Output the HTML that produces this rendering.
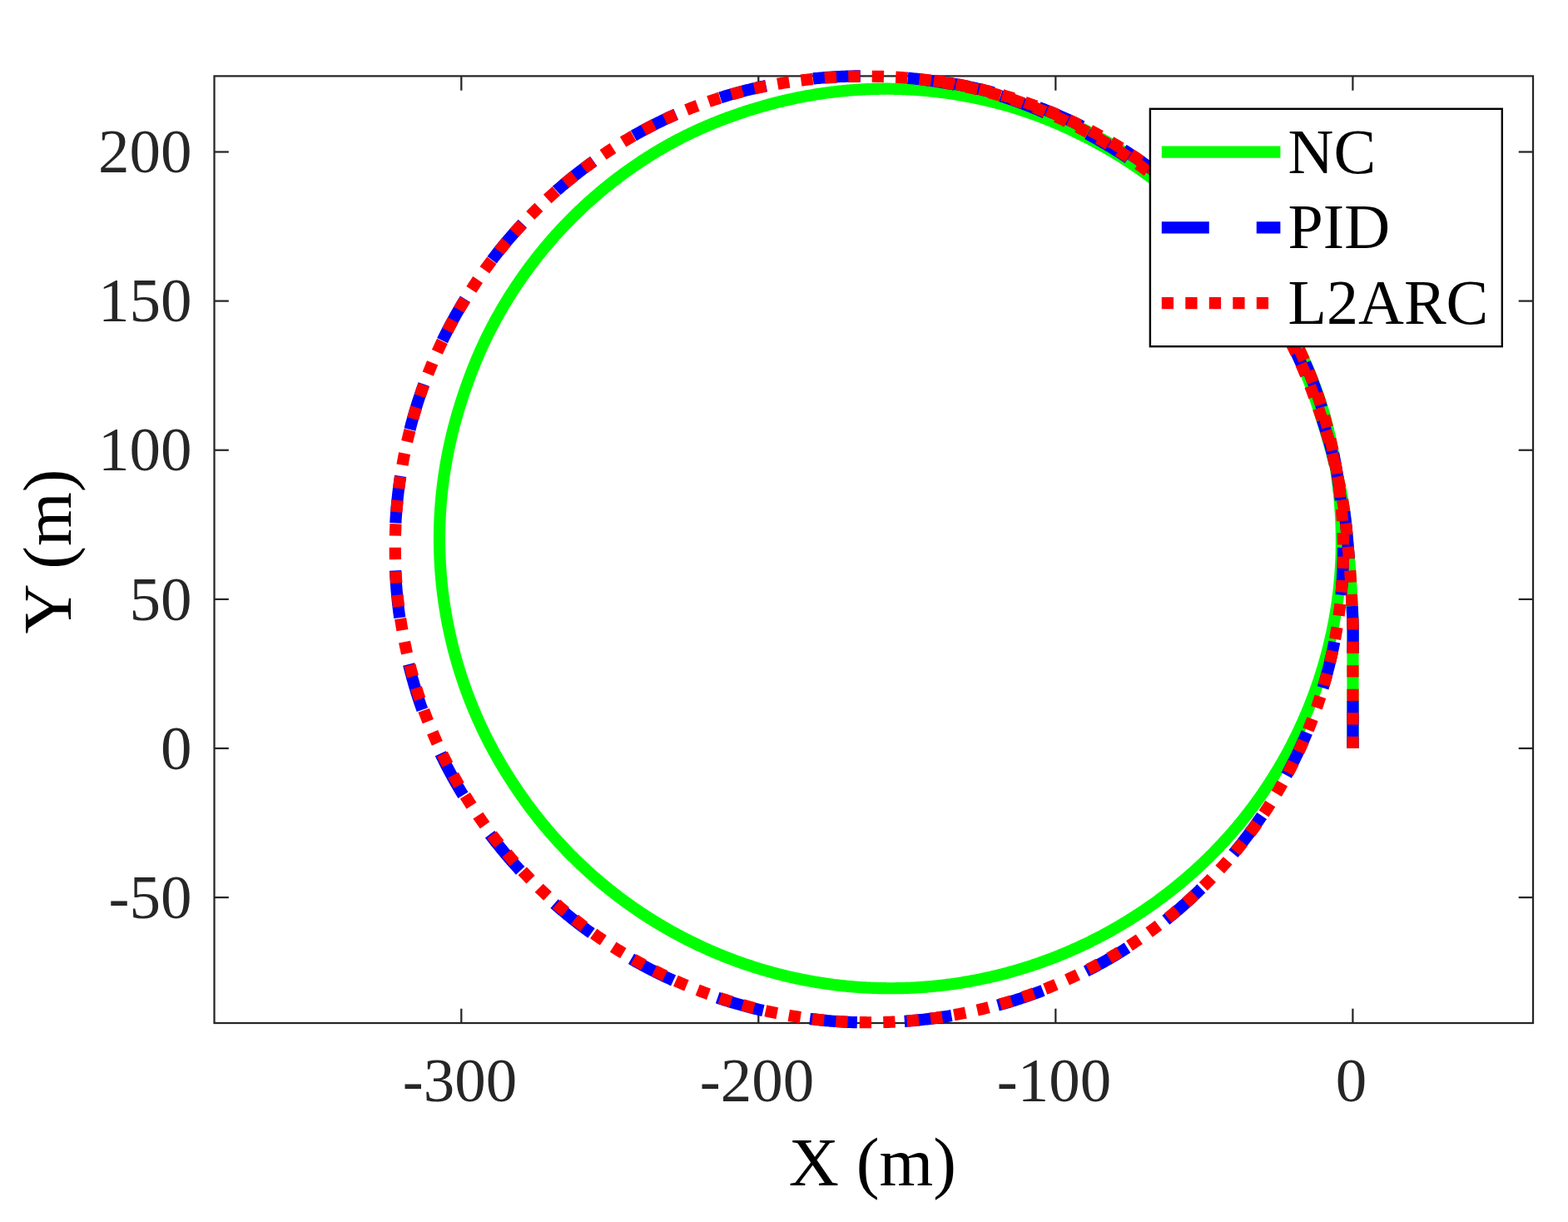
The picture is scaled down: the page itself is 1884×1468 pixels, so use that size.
<!DOCTYPE html>
<html lang="en"><head><meta charset="utf-8"><title>Trajectory</title>
<style>html,body{margin:0;padding:0;background:#fff;overflow:hidden;width:1884px;height:1468px}svg{display:block}text{font-family:"Liberation Serif",serif}</style></head><body>
<svg width="1884" height="1468" viewBox="0 0 1884 1468">
<rect x="0" y="0" width="1884" height="1468" fill="#fff"/>
<g fill="none" stroke="#262626" stroke-width="2.25" stroke-linecap="square">
<rect x="257.50" y="91.40" width="1584.50" height="1137.60" stroke-linejoin="miter"/>
</g>
<g fill="none" stroke="#262626" stroke-width="2.25" stroke-linecap="butt">
<line x1="554.30" y1="1229.00" x2="554.30" y2="1211.70"/>
<line x1="554.30" y1="91.40" x2="554.30" y2="108.70"/>
<line x1="911.30" y1="1229.00" x2="911.30" y2="1211.70"/>
<line x1="911.30" y1="91.40" x2="911.30" y2="108.70"/>
<line x1="1268.35" y1="1229.00" x2="1268.35" y2="1211.70"/>
<line x1="1268.35" y1="91.40" x2="1268.35" y2="108.70"/>
<line x1="1625.40" y1="1229.00" x2="1625.40" y2="1211.70"/>
<line x1="1625.40" y1="91.40" x2="1625.40" y2="108.70"/>
<line x1="257.50" y1="182.50" x2="274.80" y2="182.50"/>
<line x1="1842.00" y1="182.50" x2="1824.70" y2="182.50"/>
<line x1="257.50" y1="361.60" x2="274.80" y2="361.60"/>
<line x1="1842.00" y1="361.60" x2="1824.70" y2="361.60"/>
<line x1="257.50" y1="540.75" x2="274.80" y2="540.75"/>
<line x1="1842.00" y1="540.75" x2="1824.70" y2="540.75"/>
<line x1="257.50" y1="719.90" x2="274.80" y2="719.90"/>
<line x1="1842.00" y1="719.90" x2="1824.70" y2="719.90"/>
<line x1="257.50" y1="899.00" x2="274.80" y2="899.00"/>
<line x1="1842.00" y1="899.00" x2="1824.70" y2="899.00"/>
<line x1="257.50" y1="1078.10" x2="274.80" y2="1078.10"/>
<line x1="1842.00" y1="1078.10" x2="1824.70" y2="1078.10"/>
</g>
<g fill="none" stroke-width="14.20" stroke-linecap="butt" stroke-linejoin="round">
<path stroke="#00ff00" d="M1625.50 899.00 L1625.50 897.27 L1625.49 895.54 L1625.49 893.80 L1625.49 892.07 L1625.49 890.34 L1625.49 888.61 L1625.49 886.88 L1625.49 885.14 L1625.49 883.41 L1625.49 881.68 L1625.49 879.95 L1625.49 878.22 L1625.49 876.48 L1625.49 874.75 L1625.49 873.02 L1625.49 871.29 L1625.49 869.56 L1625.49 867.82 L1625.50 866.09 L1625.50 864.36 L1625.50 862.63 L1625.50 860.90 L1625.50 859.16 L1625.50 857.43 L1625.51 855.70 L1625.51 853.97 L1625.51 852.23 L1625.51 850.50 L1625.51 848.77 L1625.51 847.04 L1625.51 845.31 L1625.51 843.57 L1625.51 841.84 L1625.51 840.11 L1625.51 838.38 L1625.51 836.65 L1625.51 834.91 L1625.51 833.18 L1625.51 831.45 L1625.51 829.72 L1625.51 827.99 L1625.50 826.25 L1625.50 824.52 L1625.50 822.79 L1625.49 821.06 L1625.49 819.33 L1625.48 817.59 L1625.48 815.86 L1625.48 814.13 L1625.47 812.40 L1625.47 810.67 L1625.47 808.93 L1625.46 807.20 L1625.46 805.47 L1625.46 803.74 L1625.46 802.01 L1625.46 800.27 L1625.46 798.54 L1625.46 796.81 L1625.47 795.08 L1625.47 793.35 L1625.48 791.61 L1625.48 789.88 L1625.49 788.15 L1625.51 786.42 L1625.52 784.69 L1625.53 782.95 L1625.55 781.22 L1625.56 779.49 L1625.58 777.76 L1625.59 776.02 L1625.61 774.29 L1625.62 772.56 L1625.63 770.83 L1625.64 769.09 L1625.65 767.36 L1625.65 765.63 L1625.65 763.90 L1625.65 762.17 L1625.64 760.43 L1625.63 758.70 L1625.62 756.97 L1625.60 755.24 L1625.57 753.51 L1625.54 751.78 L1625.50 750.04 L1625.46 748.31 L1625.40 746.58 L1625.35 744.85 L1625.29 743.12 L1625.22 741.39 L1625.15 739.66 L1625.07 737.93 L1624.99 736.20 L1624.91 734.47 L1624.82 732.74 L1624.74 731.01 L1624.65 729.28 L1624.56 727.55 L1624.47 725.82 L1624.38 724.09 L1624.29 722.36 L1624.20 720.63 L1624.11 718.90 L1624.02 717.17 L1623.93 715.44 L1623.84 713.71 L1623.76 711.98 L1623.67 710.25 L1623.58 708.52 L1623.49 706.79 L1623.39 705.06 L1623.30 703.33 L1623.20 701.60 L1623.10 699.87 L1623.00 698.14 L1622.89 696.41 L1622.78 694.69 L1622.67 692.96 L1622.55 691.23 L1622.42 689.50 L1622.29 687.78 L1622.16 686.05 L1622.03 684.32 L1621.89 682.60 L1621.75 680.87 L1621.60 679.14 L1621.46 677.42 L1621.31 675.69 L1621.16 673.97 L1621.01 672.24 L1620.86 670.52 L1620.71 668.79 L1620.56 667.06 L1620.40 665.34 L1620.25 663.61 L1620.10 661.89 L1619.95 660.16 L1619.81 658.44 L1619.66 656.71 L1619.51 654.99 L1619.36 653.26 L1619.21 651.53 L1619.06 649.81 L1618.91 648.08 L1618.75 646.36 L1618.60 644.63 L1618.44 642.91 L1618.28 641.18 L1618.11 639.46 L1617.95 637.73 L1617.78 636.01 L1617.60 634.28 L1617.43 632.56 L1617.24 630.84 L1617.06 629.12 L1616.87 627.39 L1616.67 625.67 L1616.47 623.95 L1616.26 622.23 L1616.05 620.51 L1615.83 618.79 L1615.60 617.08 L1615.37 615.36 L1615.13 613.65 L1614.89 611.93 L1614.63 610.22 L1614.37 608.51 L1614.10 606.80 L1613.83 605.09 L1613.54 603.38 L1613.25 601.67 L1612.95 599.96 L1612.65 598.26 L1612.34 596.55 L1612.02 594.85 L1611.69 593.15 L1611.36 591.45 L1611.02 589.75 L1610.68 588.05 L1610.33 586.35 L1609.98 584.66 L1609.62 582.96 L1609.25 581.27 L1608.88 579.58 L1608.51 577.88 L1608.13 576.19 L1607.75 574.50 L1607.36 572.81 L1606.96 571.13 L1606.57 569.44 L1606.17 567.75 L1605.76 566.07 L1605.35 564.39 L1604.94 562.70 L1604.52 561.02 L1604.10 559.34 L1603.68 557.66 L1603.25 555.98 L1602.82 554.31 L1602.39 552.63 L1601.95 550.95 L1601.51 549.28 L1601.06 547.60 L1600.61 545.93 L1600.16 544.26 L1599.71 542.59 L1599.25 540.92 L1598.79 539.25 L1598.33 537.58 L1597.86 535.91 L1597.39 534.24 L1596.92 532.58 L1596.44 530.91 L1595.96 529.25 L1595.48 527.58 L1595.00 525.92 L1594.51 524.25 L1594.02 522.59 L1593.53 520.93 L1593.04 519.27 L1592.54 517.61 L1592.04 515.95 L1591.54 514.29 L1591.04 512.63 L1590.54 510.98 L1590.03 509.32 L1589.52 507.66 L1589.01 506.01 L1588.49 504.35 L1587.98 502.70 L1587.46 501.04 L1586.94 499.39 L1586.42 497.74 L1585.90 496.09 L1585.38 494.43 L1584.85 492.78 L1584.32 491.13 L1583.80 489.48 L1583.27 487.83 L1582.73 486.18 L1582.20 484.53 L1581.66 482.89 L1581.12 481.24 L1580.57 479.60 L1580.03 477.95 L1579.47 476.31 L1578.92 474.67 L1578.36 473.03 L1577.79 471.39 L1577.22 469.76 L1576.65 468.12 L1576.07 466.49 L1575.48 464.86 L1574.88 463.24 L1574.29 461.61 L1573.68 459.99 L1573.07 458.37 L1572.45 456.75 L1571.82 455.14 L1571.18 453.53 L1570.54 451.92 L1569.89 450.32 L1569.23 448.71 L1568.57 447.11 L1567.89 445.52 L1567.22 443.92 L1566.53 442.33 L1565.84 440.74 L1565.14 439.16 L1564.44 437.57 L1563.73 435.99 L1563.01 434.42 L1562.29 432.84 L1561.56 431.27 L1560.82 429.70 L1560.08 428.13 L1559.33 426.57 L1558.58 425.01 L1557.82 423.45 L1557.06 421.89 L1556.29 420.34 L1555.52 418.79 L1554.74 417.24 L1553.95 415.70 L1553.16 414.16 L1552.37 412.62 L1551.57 411.08 L1550.76 409.55 L1549.95 408.01 L1549.14 406.49 L1548.32 404.96 L1547.49 403.44 L1546.66 401.92 L1545.83 400.40 L1544.99 398.88 L1544.14 397.37 L1543.30 395.86 L1542.44 394.35 L1541.58 392.85 L1540.72 391.35 L1539.85 389.85 L1538.98 388.35 L1538.10 386.86 L1537.22 385.37 L1536.33 383.88 L1535.44 382.40 L1534.54 380.91 L1533.65 379.43 L1532.74 377.95 L1531.83 376.48 L1530.92 375.01 L1530.01 373.54 L1529.09 372.07 L1528.16 370.60 L1527.23 369.14 L1526.30 367.68 L1525.37 366.22 L1524.43 364.77 L1523.49 363.31 L1522.54 361.86 L1521.59 360.41 L1520.64 358.96 L1519.68 357.52 L1518.73 356.08 L1517.76 354.63 L1516.80 353.20 L1515.83 351.76 L1514.86 350.33 L1513.88 348.89 L1512.90 347.47 L1511.92 346.04 L1510.93 344.62 L1509.94 343.19 L1508.95 341.77 L1507.95 340.36 L1506.95 338.94 L1505.94 337.53 L1504.94 336.13 L1503.92 334.72 L1502.91 333.32 L1501.88 331.92 L1500.86 330.52 L1499.83 329.13 L1498.80 327.74 L1497.76 326.35 L1496.72 324.97 L1495.67 323.59 L1494.62 322.21 L1493.56 320.84 L1492.50 319.47 L1491.44 318.10 L1490.37 316.74 L1489.30 315.38 L1488.22 314.02 L1487.14 312.66 L1486.06 311.31 L1484.97 309.97 L1483.88 308.62 L1482.78 307.28 L1481.68 305.95 L1480.57 304.61 L1479.46 303.28 L1478.34 301.96 L1477.23 300.63 L1476.10 299.32 L1474.98 298.00 L1473.84 296.69 L1472.71 295.38 L1471.57 294.08 L1470.42 292.77 L1469.28 291.48 L1468.12 290.18 L1466.97 288.89 L1465.81 287.61 L1464.64 286.32 L1463.47 285.05 L1462.30 283.77 L1461.12 282.50 L1459.94 281.23 L1458.76 279.97 L1457.57 278.71 L1456.38 277.45 L1455.18 276.20 L1453.98 274.95 L1452.77 273.71 L1451.57 272.47 L1450.35 271.23 L1449.14 270.00 L1447.91 268.77 L1446.69 267.54 L1445.46 266.32 L1444.23 265.10 L1442.99 263.89 L1441.75 262.68 L1440.51 261.47 L1439.26 260.27 L1438.01 259.07 L1436.76 257.88 L1435.50 256.69 L1434.23 255.50 L1432.97 254.32 L1431.70 253.14 L1430.42 251.97 L1429.14 250.80 L1427.86 249.64 L1426.58 248.47 L1425.29 247.32 L1423.99 246.16 L1422.70 245.02 L1421.40 243.87 L1420.09 242.73 L1418.78 241.60 L1417.47 240.46 L1416.16 239.34 L1414.84 238.21 L1413.52 237.09 L1412.19 235.98 L1410.86 234.87 L1409.53 233.76 L1408.19 232.66 L1406.85 231.56 L1405.51 230.47 L1404.16 229.37 L1402.81 228.29 L1401.46 227.21 L1400.11 226.13 L1398.75 225.05 L1397.38 223.98 L1396.02 222.92 L1394.65 221.85 L1393.28 220.80 L1391.90 219.74 L1390.53 218.69 L1389.15 217.64 L1387.76 216.60 L1386.38 215.56 L1384.99 214.53 L1383.59 213.50 L1382.20 212.47 L1380.80 211.45 L1379.40 210.43 L1377.99 209.42 L1376.59 208.41 L1375.18 207.40 L1373.76 206.40 L1372.35 205.40 L1370.93 204.41 L1369.50 203.42 L1368.08 202.44 L1366.65 201.46 L1365.22 200.48 L1363.79 199.51 L1362.35 198.54 L1360.91 197.58 L1359.47 196.62 L1358.02 195.66 L1356.57 194.71 L1355.12 193.77 L1353.67 192.83 L1352.21 191.89 L1350.75 190.96 L1349.28 190.03 L1347.82 189.11 L1346.35 188.19 L1344.88 187.28 L1343.40 186.37 L1341.93 185.46 L1340.45 184.56 L1338.96 183.67 L1337.48 182.78 L1335.99 181.89 L1334.50 181.01 L1333.00 180.14 L1331.50 179.27 L1330.00 178.40 L1328.50 177.54 L1326.99 176.68 L1325.49 175.83 L1323.97 174.98 L1322.46 174.14 L1320.94 173.31 L1319.42 172.47 L1317.90 171.65 L1316.38 170.82 L1314.85 170.00 L1313.32 169.19 L1311.79 168.38 L1310.26 167.58 L1308.72 166.78 L1307.18 165.98 L1305.64 165.19 L1304.10 164.40 L1302.55 163.62 L1301.00 162.84 L1299.45 162.06 L1297.90 161.29 L1296.35 160.53 L1294.79 159.77 L1293.23 159.01 L1291.67 158.26 L1290.11 157.51 L1288.55 156.76 L1286.98 156.02 L1285.41 155.29 L1283.84 154.56 L1282.27 153.83 L1280.69 153.11 L1279.11 152.40 L1277.53 151.69 L1275.95 150.98 L1274.37 150.28 L1272.78 149.59 L1271.19 148.90 L1269.60 148.21 L1268.01 147.53 L1266.41 146.86 L1264.82 146.19 L1263.21 145.52 L1261.61 144.87 L1260.01 144.21 L1258.40 143.57 L1256.79 142.93 L1255.18 142.29 L1253.57 141.66 L1251.95 141.03 L1250.33 140.42 L1248.71 139.80 L1247.09 139.19 L1245.46 138.59 L1243.84 138.00 L1242.21 137.41 L1240.58 136.82 L1238.95 136.24 L1237.31 135.67 L1235.67 135.10 L1234.04 134.54 L1232.39 133.98 L1230.75 133.43 L1229.11 132.89 L1227.46 132.35 L1225.81 131.82 L1224.16 131.29 L1222.51 130.77 L1220.86 130.25 L1219.20 129.74 L1217.54 129.24 L1215.88 128.74 L1214.22 128.25 L1212.56 127.76 L1210.90 127.28 L1209.23 126.80 L1207.56 126.33 L1205.89 125.87 L1204.22 125.41 L1202.55 124.96 L1200.88 124.51 L1199.20 124.07 L1197.53 123.63 L1195.85 123.20 L1194.17 122.77 L1192.49 122.35 L1190.81 121.94 L1189.12 121.53 L1187.44 121.12 L1185.75 120.72 L1184.06 120.33 L1182.38 119.94 L1180.69 119.56 L1179.00 119.18 L1177.30 118.81 L1175.61 118.45 L1173.92 118.09 L1172.22 117.73 L1170.52 117.38 L1168.83 117.04 L1167.13 116.70 L1165.43 116.37 L1163.72 116.04 L1162.02 115.72 L1160.32 115.40 L1158.61 115.09 L1156.91 114.79 L1155.20 114.49 L1153.50 114.20 L1151.79 113.91 L1150.08 113.63 L1148.37 113.35 L1146.66 113.08 L1144.94 112.81 L1143.23 112.55 L1141.52 112.30 L1139.80 112.05 L1138.09 111.81 L1136.37 111.57 L1134.66 111.34 L1132.94 111.11 L1131.22 110.89 L1129.50 110.68 L1127.78 110.47 L1126.06 110.27 L1124.34 110.07 L1122.62 109.88 L1120.90 109.69 L1119.17 109.51 L1117.45 109.33 L1115.72 109.16 L1114.00 109.00 L1112.27 108.84 L1110.55 108.69 L1108.82 108.54 L1107.10 108.40 L1105.37 108.26 L1103.64 108.13 L1101.91 108.01 L1100.19 107.89 L1098.46 107.78 L1096.73 107.67 L1095.00 107.57 L1093.27 107.47 L1091.54 107.38 L1089.81 107.30 L1088.08 107.22 L1086.35 107.14 L1084.62 107.07 L1082.88 107.01 L1081.15 106.95 L1079.42 106.90 L1077.69 106.86 L1075.96 106.82 L1074.23 106.78 L1072.49 106.75 L1070.76 106.73 L1069.03 106.71 L1067.30 106.70 L1065.56 106.70 L1063.83 106.70 L1062.10 106.70 L1060.37 106.71 L1058.63 106.73 L1056.90 106.75 L1055.17 106.78 L1053.44 106.81 L1051.71 106.85 L1049.97 106.90 L1048.24 106.95 L1046.51 107.00 L1044.78 107.07 L1043.05 107.13 L1041.32 107.21 L1039.59 107.29 L1037.86 107.37 L1036.13 107.46 L1034.40 107.56 L1032.67 107.66 L1030.94 107.77 L1029.21 107.88 L1027.48 108.00 L1025.75 108.12 L1024.03 108.25 L1022.30 108.39 L1020.57 108.53 L1018.85 108.68 L1017.12 108.83 L1015.40 108.99 L1013.67 109.15 L1011.95 109.32 L1010.22 109.49 L1008.50 109.68 L1006.78 109.86 L1005.06 110.05 L1003.34 110.25 L1001.61 110.45 L999.90 110.66 L998.18 110.87 L996.46 111.09 L994.74 111.32 L993.02 111.55 L991.31 111.79 L989.59 112.03 L987.88 112.27 L986.16 112.53 L984.45 112.78 L982.74 113.05 L981.03 113.32 L979.32 113.59 L977.61 113.87 L975.90 114.15 L974.19 114.45 L972.48 114.74 L970.78 115.04 L969.07 115.35 L967.37 115.66 L965.66 115.98 L963.96 116.30 L962.26 116.63 L960.56 116.96 L958.86 117.30 L957.16 117.65 L955.47 118.00 L953.77 118.35 L952.08 118.71 L950.38 119.08 L948.69 119.45 L947.00 119.83 L945.31 120.21 L943.62 120.60 L941.94 120.99 L940.25 121.39 L938.57 121.79 L936.88 122.20 L935.20 122.62 L933.52 123.04 L931.84 123.46 L930.16 123.89 L928.48 124.33 L926.81 124.77 L925.14 125.21 L923.46 125.67 L921.79 126.12 L920.12 126.58 L918.45 127.05 L916.79 127.52 L915.12 128.00 L913.46 128.48 L911.80 128.97 L910.14 129.46 L908.48 129.96 L906.82 130.46 L905.16 130.97 L903.51 131.48 L901.85 132.00 L900.20 132.52 L898.55 133.05 L896.90 133.58 L895.25 134.12 L893.61 134.66 L891.96 135.20 L890.32 135.75 L888.68 136.31 L887.04 136.87 L885.40 137.43 L883.77 138.00 L882.13 138.58 L880.50 139.16 L878.87 139.74 L877.24 140.33 L875.61 140.93 L873.99 141.52 L872.37 142.13 L870.74 142.74 L869.12 143.35 L867.51 143.97 L865.89 144.59 L864.28 145.22 L862.66 145.86 L861.05 146.50 L859.44 147.14 L857.84 147.79 L856.23 148.44 L854.63 149.10 L853.03 149.77 L851.43 150.44 L849.84 151.11 L848.25 151.79 L846.65 152.48 L845.07 153.17 L843.48 153.86 L841.89 154.56 L840.31 155.27 L838.73 155.98 L837.16 156.70 L835.58 157.43 L834.01 158.15 L832.44 158.89 L830.88 159.63 L829.31 160.38 L827.75 161.13 L826.19 161.88 L824.64 162.65 L823.09 163.42 L821.54 164.19 L819.99 164.97 L818.45 165.76 L816.90 166.55 L815.37 167.35 L813.83 168.15 L812.30 168.96 L810.77 169.77 L809.24 170.59 L807.72 171.42 L806.20 172.25 L804.68 173.08 L803.17 173.92 L801.66 174.77 L800.15 175.62 L798.64 176.48 L797.14 177.34 L795.64 178.21 L794.14 179.08 L792.65 179.96 L791.16 180.84 L789.67 181.73 L788.18 182.62 L786.70 183.52 L785.22 184.42 L783.75 185.33 L782.28 186.24 L780.81 187.16 L779.34 188.08 L777.88 189.01 L776.42 189.94 L774.96 190.88 L773.50 191.82 L772.05 192.76 L770.61 193.72 L769.16 194.67 L767.72 195.63 L766.28 196.60 L764.85 197.57 L763.41 198.54 L761.99 199.52 L760.56 200.51 L759.14 201.50 L757.72 202.49 L756.30 203.49 L754.89 204.49 L753.48 205.50 L752.07 206.51 L750.67 207.53 L749.27 208.55 L747.88 209.57 L746.48 210.60 L745.09 211.64 L743.71 212.68 L742.32 213.72 L740.94 214.77 L739.57 215.82 L738.20 216.88 L736.83 217.94 L735.46 219.01 L734.10 220.08 L732.74 221.15 L731.39 222.23 L730.03 223.31 L728.69 224.40 L727.34 225.50 L726.00 226.59 L724.66 227.69 L723.33 228.80 L722.00 229.91 L720.67 231.02 L719.35 232.14 L718.03 233.27 L716.72 234.39 L715.40 235.52 L714.10 236.66 L712.79 237.80 L711.49 238.95 L710.19 240.09 L708.90 241.25 L707.61 242.40 L706.33 243.56 L705.04 244.73 L703.77 245.90 L702.49 247.07 L701.22 248.25 L699.96 249.43 L698.69 250.62 L697.43 251.81 L696.18 253.00 L694.93 254.20 L693.68 255.40 L692.44 256.61 L691.20 257.82 L689.96 259.03 L688.73 260.25 L687.50 261.48 L686.28 262.70 L685.06 263.93 L683.84 265.17 L682.63 266.40 L681.42 267.65 L680.22 268.89 L679.02 270.14 L677.83 271.40 L676.63 272.65 L675.45 273.92 L674.26 275.18 L673.08 276.45 L671.91 277.72 L670.74 279.00 L669.57 280.28 L668.41 281.56 L667.25 282.85 L666.10 284.14 L664.95 285.44 L663.80 286.74 L662.66 288.04 L661.52 289.35 L660.39 290.66 L659.26 291.97 L658.13 293.29 L657.01 294.61 L655.90 295.94 L654.78 297.26 L653.68 298.60 L652.57 299.93 L651.47 301.27 L650.38 302.61 L649.29 303.96 L648.20 305.31 L647.12 306.66 L646.04 308.02 L644.97 309.38 L643.90 310.74 L642.84 312.11 L641.78 313.48 L640.72 314.85 L639.67 316.23 L638.62 317.61 L637.58 319.00 L636.54 320.38 L635.51 321.77 L634.48 323.17 L633.46 324.56 L632.44 325.97 L631.42 327.37 L630.41 328.78 L629.41 330.19 L628.41 331.60 L627.41 333.02 L626.42 334.44 L625.43 335.86 L624.45 337.29 L623.47 338.72 L622.49 340.15 L621.53 341.58 L620.56 343.02 L619.60 344.47 L618.65 345.91 L617.69 347.36 L616.75 348.81 L615.81 350.26 L614.87 351.72 L613.94 353.18 L613.01 354.65 L612.09 356.11 L611.17 357.58 L610.26 359.05 L609.35 360.53 L608.44 362.00 L607.54 363.48 L606.65 364.97 L605.76 366.45 L604.87 367.94 L603.99 369.43 L603.11 370.93 L602.24 372.43 L601.37 373.93 L600.51 375.43 L599.65 376.93 L598.80 378.44 L597.95 379.95 L597.11 381.47 L596.27 382.98 L595.44 384.50 L594.61 386.02 L593.79 387.55 L592.97 389.08 L592.16 390.61 L591.35 392.14 L590.55 393.67 L589.76 395.21 L588.96 396.75 L588.18 398.30 L587.40 399.85 L586.62 401.39 L585.85 402.95 L585.09 404.50 L584.33 406.06 L583.58 407.62 L582.83 409.18 L582.09 410.75 L581.35 412.32 L580.62 413.89 L579.89 415.46 L579.17 417.03 L578.46 418.61 L577.75 420.19 L577.04 421.77 L576.34 423.36 L575.65 424.95 L574.96 426.54 L574.27 428.13 L573.60 429.72 L572.92 431.32 L572.25 432.92 L571.59 434.52 L570.93 436.12 L570.28 437.72 L569.63 439.33 L568.99 440.94 L568.35 442.55 L567.72 444.16 L567.09 445.78 L566.47 447.39 L565.85 449.01 L565.23 450.63 L564.62 452.25 L564.02 453.87 L563.42 455.50 L562.82 457.13 L562.23 458.75 L561.64 460.38 L561.06 462.01 L560.48 463.65 L559.91 465.28 L559.34 466.92 L558.77 468.56 L558.21 470.19 L557.65 471.83 L557.10 473.48 L556.55 475.12 L556.00 476.76 L555.46 478.41 L554.92 480.06 L554.39 481.70 L553.86 483.35 L553.34 485.00 L552.82 486.66 L552.30 488.31 L551.80 489.97 L551.29 491.62 L550.79 493.28 L550.30 494.94 L549.81 496.60 L549.32 498.27 L548.84 499.93 L548.37 501.60 L547.90 503.27 L547.43 504.93 L546.98 506.61 L546.52 508.28 L546.08 509.95 L545.63 511.63 L545.20 513.30 L544.77 514.98 L544.34 516.66 L543.92 518.34 L543.50 520.02 L543.09 521.70 L542.69 523.39 L542.29 525.07 L541.90 526.76 L541.51 528.45 L541.13 530.14 L540.75 531.83 L540.38 533.52 L540.01 535.22 L539.65 536.91 L539.29 538.61 L538.94 540.30 L538.59 542.00 L538.25 543.70 L537.92 545.40 L537.59 547.10 L537.27 548.80 L536.95 550.50 L536.63 552.21 L536.33 553.91 L536.02 555.62 L535.73 557.32 L535.44 559.03 L535.15 560.74 L534.87 562.45 L534.60 564.16 L534.33 565.87 L534.06 567.58 L533.80 569.30 L533.55 571.01 L533.30 572.73 L533.06 574.44 L532.82 576.16 L532.59 577.87 L532.37 579.59 L532.15 581.31 L531.93 583.03 L531.73 584.75 L531.52 586.47 L531.33 588.19 L531.13 589.91 L530.95 591.64 L530.77 593.36 L530.59 595.08 L530.42 596.81 L530.26 598.53 L530.10 600.26 L529.95 601.98 L529.80 603.71 L529.66 605.43 L529.53 607.16 L529.40 608.89 L529.27 610.62 L529.16 612.35 L529.04 614.07 L528.94 615.80 L528.84 617.53 L528.74 619.26 L528.65 620.99 L528.57 622.72 L528.49 624.45 L528.42 626.18 L528.35 627.92 L528.29 629.65 L528.24 631.38 L528.19 633.11 L528.15 634.84 L528.11 636.57 L528.08 638.31 L528.05 640.04 L528.03 641.77 L528.01 643.50 L528.01 645.24 L528.00 646.97 L528.00 648.70 L528.01 650.43 L528.03 652.17 L528.04 653.90 L528.07 655.63 L528.10 657.36 L528.14 659.09 L528.18 660.83 L528.23 662.56 L528.28 664.29 L528.34 666.02 L528.40 667.75 L528.47 669.48 L528.55 671.21 L528.63 672.94 L528.72 674.67 L528.81 676.40 L528.91 678.13 L529.02 679.86 L529.13 681.59 L529.24 683.32 L529.36 685.05 L529.49 686.78 L529.62 688.50 L529.76 690.23 L529.90 691.96 L530.05 693.68 L530.21 695.41 L530.37 697.13 L530.53 698.86 L530.70 700.58 L530.88 702.30 L531.06 704.03 L531.25 705.75 L531.45 707.47 L531.65 709.19 L531.85 710.91 L532.06 712.63 L532.28 714.35 L532.50 716.07 L532.73 717.79 L532.96 719.50 L533.20 721.22 L533.44 722.93 L533.69 724.65 L533.95 726.36 L534.21 728.07 L534.48 729.79 L534.75 731.50 L535.03 733.21 L535.31 734.92 L535.60 736.62 L535.89 738.33 L536.19 740.04 L536.50 741.74 L536.81 743.45 L537.12 745.15 L537.45 746.85 L537.77 748.55 L538.11 750.25 L538.45 751.95 L538.79 753.65 L539.14 755.35 L539.49 757.04 L539.85 758.74 L540.22 760.43 L540.59 762.12 L540.97 763.81 L541.35 765.50 L541.74 767.19 L542.13 768.88 L542.53 770.56 L542.94 772.25 L543.35 773.93 L543.76 775.61 L544.18 777.30 L544.61 778.97 L545.04 780.65 L545.48 782.33 L545.92 784.00 L546.37 785.68 L546.82 787.35 L547.28 789.02 L547.74 790.69 L548.21 792.36 L548.69 794.02 L549.17 795.69 L549.65 797.35 L550.15 799.01 L550.64 800.67 L551.14 802.33 L551.65 803.98 L552.16 805.64 L552.68 807.29 L553.20 808.94 L553.73 810.59 L554.27 812.24 L554.81 813.89 L555.35 815.53 L555.90 817.18 L556.46 818.82 L557.02 820.46 L557.58 822.09 L558.15 823.73 L558.73 825.36 L559.31 826.99 L559.90 828.62 L560.49 830.25 L561.09 831.88 L561.69 833.50 L562.30 835.12 L562.92 836.74 L563.53 838.36 L564.16 839.98 L564.79 841.59 L565.42 843.20 L566.06 844.81 L566.71 846.42 L567.36 848.03 L568.01 849.63 L568.67 851.23 L569.34 852.83 L570.01 854.43 L570.68 856.03 L571.36 857.62 L572.05 859.21 L572.74 860.80 L573.44 862.38 L574.14 863.97 L574.85 865.55 L575.56 867.13 L576.27 868.71 L577.00 870.28 L577.72 871.85 L578.45 873.42 L579.19 874.99 L579.93 876.56 L580.68 878.12 L581.43 879.68 L582.19 881.24 L582.95 882.80 L583.72 884.35 L584.49 885.90 L585.27 887.45 L586.05 888.99 L586.84 890.54 L587.63 892.08 L588.43 893.62 L589.23 895.15 L590.04 896.68 L590.86 898.21 L591.67 899.74 L592.50 901.26 L593.33 902.78 L594.16 904.30 L595.00 905.82 L595.85 907.33 L596.70 908.84 L597.55 910.34 L598.41 911.85 L599.28 913.35 L600.15 914.85 L601.02 916.34 L601.90 917.83 L602.79 919.32 L603.68 920.81 L604.57 922.29 L605.47 923.77 L606.37 925.25 L607.28 926.73 L608.19 928.20 L609.11 929.67 L610.03 931.14 L610.95 932.60 L611.88 934.07 L612.82 935.53 L613.75 936.98 L614.69 938.44 L615.64 939.89 L616.59 941.34 L617.54 942.79 L618.50 944.23 L619.46 945.67 L620.42 947.11 L621.39 948.55 L622.36 949.98 L623.34 951.41 L624.32 952.84 L625.30 954.27 L626.29 955.69 L627.29 957.11 L628.28 958.53 L629.28 959.94 L630.29 961.35 L631.30 962.75 L632.32 964.16 L633.34 965.56 L634.36 966.96 L635.39 968.35 L636.42 969.74 L637.46 971.13 L638.50 972.51 L639.55 973.89 L640.60 975.27 L641.66 976.64 L642.72 978.01 L643.79 979.37 L644.86 980.74 L645.93 982.10 L647.01 983.45 L648.09 984.80 L649.18 986.15 L650.27 987.50 L651.37 988.84 L652.47 990.18 L653.57 991.51 L654.68 992.84 L655.80 994.17 L656.91 995.49 L658.03 996.81 L659.16 998.13 L660.29 999.44 L661.43 1000.75 L662.56 1002.06 L663.71 1003.36 L664.85 1004.66 L666.00 1005.95 L667.16 1007.25 L668.32 1008.53 L669.48 1009.82 L670.65 1011.10 L671.82 1012.37 L672.99 1013.65 L674.17 1014.92 L675.36 1016.18 L676.54 1017.44 L677.73 1018.70 L678.93 1019.96 L680.13 1021.21 L681.33 1022.45 L682.54 1023.69 L683.75 1024.93 L684.96 1026.17 L686.18 1027.40 L687.41 1028.63 L688.63 1029.85 L689.86 1031.07 L691.10 1032.28 L692.34 1033.50 L693.58 1034.70 L694.83 1035.91 L696.08 1037.10 L697.33 1038.30 L698.59 1039.49 L699.85 1040.68 L701.11 1041.86 L702.38 1043.04 L703.66 1044.22 L704.93 1045.39 L706.21 1046.55 L707.50 1047.72 L708.79 1048.88 L710.08 1050.03 L711.37 1051.18 L712.67 1052.33 L713.97 1053.47 L715.28 1054.61 L716.59 1055.74 L717.90 1056.87 L719.22 1058.00 L720.54 1059.12 L721.86 1060.24 L723.19 1061.35 L724.52 1062.46 L725.86 1063.56 L727.20 1064.66 L728.54 1065.76 L729.88 1066.85 L731.23 1067.94 L732.58 1069.02 L733.94 1070.10 L735.30 1071.17 L736.66 1072.24 L738.03 1073.31 L739.40 1074.37 L740.77 1075.43 L742.15 1076.48 L743.52 1077.53 L744.91 1078.57 L746.29 1079.61 L747.68 1080.64 L749.08 1081.67 L750.47 1082.70 L751.87 1083.72 L753.27 1084.74 L754.68 1085.75 L756.09 1086.76 L757.50 1087.76 L758.92 1088.76 L760.33 1089.75 L761.76 1090.74 L763.18 1091.73 L764.61 1092.71 L766.04 1093.69 L767.48 1094.66 L768.91 1095.62 L770.35 1096.59 L771.80 1097.54 L773.24 1098.50 L774.69 1099.45 L776.15 1100.39 L777.60 1101.33 L779.06 1102.26 L780.52 1103.19 L781.99 1104.12 L783.45 1105.04 L784.92 1105.95 L786.40 1106.87 L787.87 1107.77 L789.35 1108.67 L790.84 1109.57 L792.32 1110.46 L793.81 1111.35 L795.30 1112.23 L796.79 1113.11 L798.29 1113.98 L799.79 1114.85 L801.29 1115.72 L802.79 1116.57 L804.30 1117.43 L805.81 1118.28 L807.32 1119.12 L808.84 1119.96 L810.36 1120.80 L811.88 1121.62 L813.40 1122.45 L814.93 1123.27 L816.46 1124.08 L817.99 1124.89 L819.52 1125.70 L821.06 1126.50 L822.60 1127.30 L824.14 1128.09 L825.68 1128.87 L827.23 1129.65 L828.78 1130.43 L830.33 1131.20 L831.88 1131.96 L833.44 1132.72 L835.00 1133.48 L836.56 1134.23 L838.13 1134.98 L839.69 1135.72 L841.26 1136.45 L842.83 1137.18 L844.40 1137.91 L845.98 1138.63 L847.56 1139.35 L849.14 1140.06 L850.72 1140.76 L852.30 1141.46 L853.89 1142.16 L855.48 1142.85 L857.07 1143.53 L858.66 1144.21 L860.26 1144.89 L861.86 1145.56 L863.46 1146.22 L865.06 1146.88 L866.66 1147.54 L868.27 1148.19 L869.88 1148.83 L871.49 1149.47 L873.10 1150.10 L874.71 1150.73 L876.33 1151.35 L877.95 1151.97 L879.57 1152.59 L881.19 1153.19 L882.81 1153.80 L884.44 1154.39 L886.07 1154.99 L887.70 1155.57 L889.33 1156.16 L890.96 1156.73 L892.60 1157.30 L894.24 1157.87 L895.88 1158.43 L897.52 1158.99 L899.16 1159.54 L900.80 1160.08 L902.45 1160.62 L904.10 1161.16 L905.75 1161.69 L907.40 1162.21 L909.05 1162.73 L910.71 1163.24 L912.36 1163.75 L914.02 1164.25 L915.68 1164.75 L917.34 1165.24 L919.00 1165.73 L920.67 1166.21 L922.33 1166.69 L924.00 1167.16 L925.67 1167.62 L927.34 1168.08 L929.01 1168.54 L930.68 1168.99 L932.36 1169.43 L934.03 1169.87 L935.71 1170.30 L937.39 1170.73 L939.07 1171.16 L940.75 1171.57 L942.43 1171.98 L944.12 1172.39 L945.80 1172.79 L947.49 1173.19 L949.18 1173.58 L950.87 1173.96 L952.56 1174.34 L954.25 1174.72 L955.94 1175.08 L957.64 1175.45 L959.33 1175.80 L961.03 1176.16 L962.72 1176.50 L964.42 1176.84 L966.12 1177.18 L967.82 1177.51 L969.52 1177.84 L971.23 1178.16 L972.93 1178.47 L974.64 1178.78 L976.34 1179.08 L978.05 1179.38 L979.76 1179.67 L981.46 1179.96 L983.17 1180.24 L984.88 1180.51 L986.59 1180.78 L988.31 1181.05 L990.02 1181.31 L991.73 1181.56 L993.45 1181.81 L995.16 1182.05 L996.88 1182.29 L998.60 1182.52 L1000.31 1182.75 L1002.03 1182.97 L1003.75 1183.18 L1005.47 1183.39 L1007.19 1183.60 L1008.91 1183.80 L1010.63 1183.99 L1012.36 1184.18 L1014.08 1184.36 L1015.80 1184.53 L1017.53 1184.71 L1019.25 1184.87 L1020.98 1185.03 L1022.70 1185.18 L1024.43 1185.33 L1026.15 1185.48 L1027.88 1185.61 L1029.61 1185.75 L1031.34 1185.87 L1033.06 1185.99 L1034.79 1186.11 L1036.52 1186.22 L1038.25 1186.32 L1039.98 1186.42 L1041.71 1186.52 L1043.44 1186.60 L1045.17 1186.69 L1046.90 1186.76 L1048.63 1186.83 L1050.36 1186.90 L1052.09 1186.96 L1053.83 1187.01 L1055.56 1187.06 L1057.29 1187.10 L1059.02 1187.14 L1060.75 1187.17 L1062.49 1187.20 L1064.22 1187.22 L1065.95 1187.24 L1067.68 1187.25 L1069.41 1187.25 L1071.15 1187.25 L1072.88 1187.24 L1074.61 1187.23 L1076.34 1187.21 L1078.08 1187.19 L1079.81 1187.16 L1081.54 1187.12 L1083.27 1187.08 L1085.00 1187.04 L1086.74 1186.99 L1088.47 1186.93 L1090.20 1186.87 L1091.93 1186.80 L1093.66 1186.72 L1095.39 1186.65 L1097.12 1186.56 L1098.85 1186.47 L1100.58 1186.37 L1102.31 1186.27 L1104.04 1186.17 L1105.77 1186.05 L1107.50 1185.94 L1109.22 1185.81 L1110.95 1185.68 L1112.68 1185.55 L1114.41 1185.41 L1116.13 1185.26 L1117.86 1185.11 L1119.58 1184.96 L1121.31 1184.79 L1123.03 1184.63 L1124.76 1184.45 L1126.48 1184.27 L1128.20 1184.09 L1129.92 1183.90 L1131.65 1183.70 L1133.37 1183.50 L1135.09 1183.30 L1136.81 1183.09 L1138.52 1182.87 L1140.24 1182.65 L1141.96 1182.42 L1143.68 1182.18 L1145.39 1181.94 L1147.11 1181.70 L1148.82 1181.45 L1150.53 1181.19 L1152.25 1180.93 L1153.96 1180.67 L1155.67 1180.39 L1157.38 1180.12 L1159.09 1179.83 L1160.80 1179.54 L1162.50 1179.25 L1164.21 1178.95 L1165.92 1178.65 L1167.62 1178.33 L1169.32 1178.02 L1171.03 1177.70 L1172.73 1177.37 L1174.43 1177.04 L1176.13 1176.70 L1177.82 1176.36 L1179.52 1176.01 L1181.22 1175.66 L1182.91 1175.30 L1184.61 1174.93 L1186.30 1174.56 L1187.99 1174.19 L1189.68 1173.81 L1191.37 1173.42 L1193.06 1173.03 L1194.74 1172.63 L1196.43 1172.23 L1198.11 1171.82 L1199.79 1171.41 L1201.47 1170.99 L1203.15 1170.56 L1204.83 1170.14 L1206.51 1169.70 L1208.18 1169.26 L1209.86 1168.82 L1211.53 1168.36 L1213.20 1167.91 L1214.87 1167.45 L1216.54 1166.98 L1218.21 1166.51 L1219.87 1166.03 L1221.54 1165.55 L1223.20 1165.06 L1224.86 1164.57 L1226.52 1164.07 L1228.18 1163.57 L1229.83 1163.06 L1231.49 1162.54 L1233.14 1162.02 L1234.79 1161.50 L1236.44 1160.97 L1238.09 1160.43 L1239.73 1159.89 L1241.38 1159.35 L1243.02 1158.79 L1244.66 1158.24 L1246.30 1157.68 L1247.94 1157.11 L1249.57 1156.54 L1251.20 1155.96 L1252.84 1155.38 L1254.47 1154.79 L1256.09 1154.20 L1257.72 1153.60 L1259.34 1153.00 L1260.97 1152.39 L1262.59 1151.77 L1264.20 1151.16 L1265.82 1150.53 L1267.43 1149.90 L1269.05 1149.27 L1270.66 1148.63 L1272.26 1147.99 L1273.87 1147.34 L1275.47 1146.68 L1277.08 1146.02 L1278.68 1145.36 L1280.27 1144.69 L1281.87 1144.01 L1283.46 1143.33 L1285.05 1142.65 L1286.64 1141.96 L1288.23 1141.26 L1289.81 1140.56 L1291.40 1139.86 L1292.98 1139.15 L1294.55 1138.43 L1296.13 1137.71 L1297.70 1136.98 L1299.27 1136.25 L1300.84 1135.52 L1302.41 1134.78 L1303.97 1134.03 L1305.53 1133.28 L1307.09 1132.53 L1308.65 1131.77 L1310.20 1131.00 L1311.76 1130.23 L1313.31 1129.46 L1314.85 1128.68 L1316.40 1127.89 L1317.94 1127.10 L1319.48 1126.31 L1321.02 1125.51 L1322.55 1124.71 L1324.08 1123.90 L1325.61 1123.08 L1327.14 1122.27 L1328.66 1121.44 L1330.18 1120.61 L1331.70 1119.78 L1333.22 1118.94 L1334.73 1118.10 L1336.24 1117.25 L1337.75 1116.40 L1339.26 1115.54 L1340.76 1114.68 L1342.26 1113.82 L1343.76 1112.94 L1345.25 1112.07 L1346.75 1111.19 L1348.23 1110.30 L1349.72 1109.41 L1351.20 1108.52 L1352.68 1107.62 L1354.16 1106.71 L1355.64 1105.81 L1357.11 1104.89 L1358.58 1103.97 L1360.04 1103.05 L1361.51 1102.12 L1362.97 1101.19 L1364.43 1100.26 L1365.88 1099.32 L1367.33 1098.37 L1368.78 1097.42 L1370.23 1096.47 L1371.67 1095.51 L1373.11 1094.54 L1374.55 1093.58 L1375.98 1092.61 L1377.41 1091.63 L1378.84 1090.65 L1380.26 1089.66 L1381.69 1088.67 L1383.11 1087.68 L1384.52 1086.68 L1385.93 1085.68 L1387.34 1084.67 L1388.75 1083.66 L1390.15 1082.64 L1391.55 1081.62 L1392.95 1080.60 L1394.35 1079.57 L1395.74 1078.54 L1397.12 1077.50 L1398.51 1076.46 L1399.89 1075.41 L1401.27 1074.36 L1402.64 1073.31 L1404.01 1072.25 L1405.38 1071.18 L1406.74 1070.12 L1408.10 1069.04 L1409.46 1067.97 L1410.81 1066.89 L1412.16 1065.80 L1413.51 1064.71 L1414.85 1063.62 L1416.19 1062.52 L1417.53 1061.42 L1418.86 1060.31 L1420.19 1059.20 L1421.52 1058.08 L1422.84 1056.97 L1424.16 1055.84 L1425.47 1054.71 L1426.79 1053.58 L1428.09 1052.45 L1429.40 1051.31 L1430.70 1050.16 L1432.00 1049.01 L1433.29 1047.86 L1434.58 1046.71 L1435.87 1045.55 L1437.15 1044.38 L1438.43 1043.21 L1439.70 1042.04 L1440.98 1040.86 L1442.24 1039.68 L1443.51 1038.50 L1444.77 1037.31 L1446.03 1036.12 L1447.28 1034.92 L1448.53 1033.72 L1449.77 1032.52 L1451.01 1031.31 L1452.25 1030.10 L1453.48 1028.88 L1454.71 1027.66 L1455.94 1026.44 L1457.16 1025.21 L1458.38 1023.98 L1459.59 1022.74 L1460.80 1021.50 L1462.01 1020.25 L1463.21 1019.01 L1464.41 1017.75 L1465.60 1016.50 L1466.79 1015.24 L1467.97 1013.97 L1469.15 1012.71 L1470.33 1011.43 L1471.50 1010.16 L1472.67 1008.88 L1473.83 1007.59 L1474.99 1006.31 L1476.15 1005.02 L1477.30 1003.72 L1478.44 1002.42 L1479.58 1001.12 L1480.72 999.81 L1481.86 998.50 L1482.98 997.19 L1484.11 995.87 L1485.23 994.55 L1486.35 993.22 L1487.46 991.89 L1488.56 990.56 L1489.67 989.23 L1490.77 987.89 L1491.86 986.54 L1492.95 985.20 L1494.04 983.85 L1495.12 982.49 L1496.19 981.14 L1497.27 979.78 L1498.33 978.41 L1499.40 977.04 L1500.46 975.67 L1501.51 974.30 L1502.56 972.92 L1503.61 971.54 L1504.65 970.15 L1505.68 968.77 L1506.71 967.37 L1507.74 965.98 L1508.76 964.58 L1509.78 963.18 L1510.80 961.77 L1511.81 960.37 L1512.81 958.96 L1513.81 957.54 L1514.81 956.12 L1515.80 954.70 L1516.79 953.28 L1517.77 951.85 L1518.75 950.42 L1519.72 948.99 L1520.69 947.55 L1521.65 946.11 L1522.61 944.67 L1523.56 943.22 L1524.51 941.77 L1525.46 940.32 L1526.40 938.87 L1527.33 937.41 L1528.27 935.95 L1529.19 934.48 L1530.11 933.02 L1531.03 931.55 L1531.94 930.07 L1532.85 928.60 L1533.75 927.12 L1534.65 925.64 L1535.54 924.15 L1536.43 922.67 L1537.31 921.18 L1538.19 919.68 L1539.07 918.19 L1539.94 916.69 L1540.80 915.19 L1541.66 913.68 L1542.51 912.18 L1543.36 910.67 L1544.21 909.15 L1545.05 907.64 L1545.88 906.12 L1546.71 904.60 L1547.54 903.08 L1548.36 901.55 L1549.17 900.02 L1549.98 898.49 L1550.79 896.96 L1551.59 895.42 L1552.39 893.88 L1553.18 892.34 L1553.96 890.80 L1554.74 889.25 L1555.52 887.70 L1556.29 886.15 L1557.06 884.60 L1557.82 883.04 L1558.57 881.48 L1559.32 879.92 L1560.07 878.36 L1560.81 876.79 L1561.54 875.22 L1562.28 873.65 L1563.00 872.08 L1563.72 870.50 L1564.44 868.92 L1565.15 867.34 L1565.85 865.76 L1566.55 864.18 L1567.25 862.59 L1567.94 861.00 L1568.62 859.41 L1569.30 857.82 L1569.98 856.22 L1570.65 854.62 L1571.31 853.02 L1571.97 851.42 L1572.62 849.82 L1573.27 848.21 L1573.92 846.60 L1574.56 844.99 L1575.19 843.38 L1575.82 841.77 L1576.44 840.15 L1577.06 838.53 L1577.67 836.91 L1578.28 835.29 L1578.88 833.66 L1579.48 832.04 L1580.07 830.41 L1580.66 828.78 L1581.24 827.15 L1581.81 825.51 L1582.39 823.88 L1582.95 822.24 L1583.51 820.60 L1584.07 818.96 L1584.62 817.32 L1585.16 815.67 L1585.70 814.03 L1586.24 812.38 L1586.76 810.73 L1587.29 809.08 L1587.81 807.42 L1588.32 805.77 L1588.83 804.11 L1589.33 802.46 L1589.83 800.80 L1590.32 799.14 L1590.80 797.47 L1591.29 795.81 L1591.76 794.14 L1592.23 792.48 L1592.70 790.81 L1593.16 789.14 L1593.61 787.46 L1594.06 785.79 L1594.50 784.12 L1594.94 782.44 L1595.37 780.76 L1595.80 779.08 L1596.22 777.40 L1596.64 775.72 L1597.05 774.04 L1597.45 772.35 L1597.85 770.67 L1598.25 768.98 L1598.64 767.29 L1599.02 765.60 L1599.40 763.91 L1599.77 762.22 L1600.14 760.53 L1600.50 758.84 L1600.86 757.14 L1601.21 755.44 L1601.56 753.75 L1601.90 752.05 L1602.23 750.35 L1602.56 748.65 L1602.88 746.94 L1603.20 745.24 L1603.52 743.54 L1603.82 741.83 L1604.13 740.13 L1604.42 738.42 L1604.71 736.71 L1605.00 735.00 L1605.28 733.29 L1605.55 731.58 L1605.82 729.87 L1606.08 728.16 L1606.34 726.45 L1606.59 724.73 L1606.83 723.02 L1607.07 721.30 L1607.30 719.58 L1607.53 717.87 L1607.75 716.15 L1607.96 714.43 L1608.17 712.71 L1608.38 710.99 L1608.57 709.27 L1608.77 707.55 L1608.95 705.82 L1609.13 704.10 L1609.30 702.38 L1609.47 700.65 L1609.63 698.93 L1609.79 697.20 L1609.94 695.48 L1610.09 693.75 L1610.22 692.02 L1610.36 690.30 L1610.49 688.57 L1610.61 686.84 L1610.72 685.11 L1610.84 683.38 L1610.94 681.65 L1611.04 679.92 L1611.14 678.19 L1611.22 676.46 L1611.31 674.73 L1611.39 673.00 L1611.46 671.27 L1611.53 669.54 L1611.59 667.81 L1611.64 666.08 L1611.69 664.35 L1611.74 662.61 L1611.78 660.88 L1611.81 659.15 L1611.84 657.42 L1611.86 655.69 L1611.88 653.95 L1611.89 652.22 L1611.90 650.49 L1611.90 648.76 L1611.89 647.02 L1611.88 645.29 L1611.86 643.56 L1611.84 641.83 L1611.81 640.10 L1611.78 638.36 L1611.74 636.63 L1611.69 634.90 L1611.64 633.17 L1611.58 631.44 L1611.52 629.71 L1611.45 627.97 L1611.38 626.24 L1611.30 624.51 L1611.22 622.78 L1611.13 621.05 L1611.03 619.32 L1610.93 617.59 L1610.82 615.86 L1610.71 614.14 L1610.59 612.41 L1610.47 610.68 L1610.34 608.95 L1610.21 607.22 L1610.07 605.50 L1609.92 603.77 L1609.77 602.05 L1609.61 600.32 L1609.45 598.60 L1609.29 596.87 L1609.11 595.15 L1608.94 593.42 L1608.76 591.70 L1608.57 589.98 L1608.38 588.26 L1608.18 586.54 L1607.98 584.82 L1607.77 583.10 L1607.56 581.38 L1607.34 579.66 L1607.12 577.94 L1606.89 576.22 L1606.66 574.51 L1606.43 572.79 L1606.18 571.07 L1605.94 569.36 L1605.69 567.64 L1605.44 565.93 L1605.18 564.22 L1604.92 562.51 L1604.65 560.79 L1604.38 559.08 L1604.10 557.37 L1603.82 555.66 L1603.54 553.96 L1603.25 552.25 L1602.95 550.54 L1602.65 548.83 L1602.35 547.13 L1602.04 545.42 L1601.73 543.72 L1601.41 542.02 L1601.09 540.32 L1600.76 538.61 L1600.43 536.92 L1600.09 535.22 L1599.74 533.52 L1599.39 531.82 L1599.04 530.13 L1598.68 528.43 L1598.32 526.74 L1597.95 525.04 L1597.57 523.35 L1597.19 521.66 L1596.81 519.97 L1596.41 518.28 L1596.02 516.60 L1595.61 514.91 L1595.20 513.23 L1594.79 511.55 L1594.36 509.87 L1593.93 508.19 L1593.50 506.51 L1593.06 504.84 L1592.61 503.16 L1592.15 501.49 L1591.69 499.82 L1591.22 498.15 L1590.74 496.49 L1590.26 494.83 L1589.77 493.16 L1589.27 491.51 L1588.76 489.85 L1588.25 488.19 L1587.73 486.54 L1587.20 484.89 L1586.67 483.25 L1586.12 481.60 L1585.57 479.96 L1585.02 478.32 L1584.46 476.68 L1583.89 475.04 L1583.31 473.41 L1582.73 471.78 L1582.15 470.15 L1581.55 468.52 L1580.95 466.89 L1580.35 465.27 L1579.74 463.64 L1579.13 462.02 L1578.51 460.41 L1577.89 458.79 L1577.26 457.17 L1576.62 455.56 L1575.99 453.95 L1575.34 452.34 L1574.70 450.73 L1574.05 449.13 L1573.39 447.52 L1572.73 445.92 L1572.07 444.32 L1571.40 442.72 L1570.72 441.13 L1570.04 439.53 L1569.36 437.94 L1568.67 436.35 L1567.98 434.77 L1567.28 433.18 L1566.58 431.60 L1565.87 430.02 L1565.16 428.44 L1564.44 426.86 L1563.72 425.29 L1562.99 423.71 L1562.26 422.15 L1561.52 420.58 L1560.77 419.01 L1560.03 417.45 L1559.27 415.89 L1558.51 414.33 L1557.75 412.78 L1556.98 411.23 L1556.21 409.68 L1555.43 408.13 L1554.64 406.59 L1553.86 405.04 L1553.06 403.50 L1552.26 401.97 L1551.46 400.43 L1550.65 398.90 L1549.84 397.37 L1549.02 395.84 L1548.20 394.32 L1547.37 392.79 L1546.54 391.28 L1545.70 389.76 L1544.86 388.24 L1544.01 386.73 L1543.16 385.22 L1542.31 383.72 L1541.45 382.21 L1540.58 380.71 L1539.71 379.21 L1538.84 377.72 L1537.96 376.22 L1537.08 374.73 L1536.19 373.24 L1535.30 371.76 L1534.41 370.28 L1533.51 368.80 L1532.60 367.32 L1531.69 365.84 L1530.78 364.37 L1529.86 362.90 L1528.94 361.44 L1528.01 359.97 L1527.08 358.51 L1526.15 357.05 L1525.21 355.60 L1524.26 354.15 L1523.31 352.70 L1522.36 351.25 L1521.41 349.80 L1520.45 348.36 L1519.48 346.92 L1518.51 345.49 L1517.54 344.05 L1516.56 342.62 L1515.58 341.20 L1514.59 339.77 L1513.60 338.35 L1512.61 336.93 L1511.61 335.52 L1510.61 334.10 L1509.60 332.69 L1508.59 331.29 L1507.57 329.88 L1506.56 328.48 L1505.53 327.09 L1504.50 325.69 L1503.47 324.30 L1502.44 322.91 L1501.40 321.53 L1500.35 320.14 L1499.30 318.77 L1498.25 317.39 L1497.19 316.02 L1496.13 314.65 L1495.07 313.28 L1494.00 311.92 L1492.92 310.56 L1491.85 309.20 L1490.76 307.85 L1489.68 306.50 L1488.59 305.15 L1487.49 303.81 L1486.40 302.47 L1485.29 301.13 L1484.19 299.80 L1483.08 298.47 L1481.96 297.14 L1480.85 295.82 L1479.72 294.50 L1478.60 293.19 L1477.47 291.87 L1476.33 290.56 L1475.19 289.26 L1474.05 287.96 L1472.90 286.66 L1471.75 285.36 L1470.60 284.07 L1469.44 282.78 L1468.28 281.50 L1467.11 280.22 L1465.94 278.94 L1464.77 277.67 L1463.59 276.40 L1462.40 275.13 L1461.22 273.87 L1460.03 272.61 L1458.83 271.36 L1457.64 270.10 L1456.43 268.86 L1455.23 267.61 L1454.02 266.37 L1452.81 265.14 L1451.59 263.90 L1450.37 262.67 L1449.14 261.45 L1447.91 260.23 L1446.68 259.01 L1445.45 257.80 L1444.21 256.59 L1442.96 255.38 L1441.71 254.18 L1440.46 252.98 L1439.21 251.79 L1437.95 250.60 L1436.69 249.41 L1435.42 248.23 L1434.15 247.05 L1432.88 245.88 L1431.60 244.71 L1430.32 243.54 L1429.03 242.38 L1427.74 241.22 L1426.45 240.07 L1425.15 238.92 L1423.85 237.77 L1422.55 236.63 L1421.24 235.49 L1419.93 234.36 L1418.62 233.23 L1417.30 232.11 L1415.98 230.99 L1414.66 229.87 L1413.33 228.76 L1412.00 227.65 L1410.66 226.55 L1409.32 225.45 L1407.98 224.35 L1406.64 223.26 L1405.29 222.17 L1403.94 221.08 L1402.59 220.00 L1401.23 218.93 L1399.87 217.85 L1398.51 216.78 L1397.14 215.72 L1395.77 214.66 L1394.40 213.60 L1393.02 212.55 L1391.64 211.50 L1390.26 210.45 L1388.88 209.41 L1387.49 208.38 L1386.10 207.34 L1384.71 206.31 L1383.31 205.29 L1381.91 204.27 L1380.51 203.25 L1379.10 202.24 L1377.69 201.23 L1376.28 200.22 L1374.87 199.22 L1373.45 198.23 L1372.03 197.23 L1370.61 196.25 L1369.18 195.26 L1367.75 194.28 L1366.32 193.31 L1364.89 192.34 L1363.45 191.37 L1362.01 190.41 L1360.57 189.45 L1359.12 188.49 L1357.67 187.54 L1356.22 186.60 L1354.77 185.66 L1353.31 184.72 L1351.85 183.79 L1350.39 182.86 L1348.92 181.94 L1347.45 181.02 L1345.98 180.11 L1344.50 179.20 L1343.03 178.29 L1341.55 177.39 L1340.06 176.50 L1338.58 175.61 L1337.09 174.72 L1335.60 173.84 L1334.10 172.96 L1332.61 172.09 L1331.11 171.22 L1329.60 170.36 L1328.10 169.50 L1326.59 168.65 L1325.08 167.80 L1323.57 166.96 L1322.05 166.12 L1320.54 165.28 L1319.01 164.45 L1317.49 163.63 L1315.97 162.81 L1314.44 161.99 L1312.91 161.18 L1311.37 160.38 L1309.84 159.57 L1308.30 158.78 L1306.76 157.98 L1305.22 157.19 L1303.67 156.41 L1302.12 155.63 L1300.58 154.86 L1299.02 154.09 L1297.47 153.32 L1295.91 152.56 L1294.35 151.80 L1292.79 151.05 L1291.23 150.30 L1289.67 149.56 L1288.10 148.82 L1286.53 148.09 L1284.96 147.36 L1283.38 146.64 L1281.81 145.92 L1280.23 145.20 L1278.65 144.49 L1277.07 143.79 L1275.48 143.09 L1273.90 142.39 L1272.31 141.70 L1270.72 141.01 L1269.13 140.33 L1267.53 139.66 L1265.93 138.98 L1264.34 138.32 L1262.74 137.65 L1261.13 137.00 L1259.53 136.34 L1257.92 135.69 L1256.31 135.05 L1254.70 134.41 L1253.09 133.78 L1251.48 133.15 L1249.86 132.53 L1248.24 131.91 L1246.62 131.29 L1245.00 130.68 L1243.38 130.08 L1241.75 129.48 L1240.13 128.89 L1238.50 128.30"/>
<path stroke="#0000ff" stroke-dasharray="56.98 56.97" d="M1625.50 899.00 L1625.50 897.15 L1625.49 895.29 L1625.49 893.44 L1625.49 891.59 L1625.49 889.74 L1625.49 887.88 L1625.49 886.03 L1625.49 884.18 L1625.49 882.32 L1625.49 880.47 L1625.49 878.62 L1625.49 876.76 L1625.49 874.91 L1625.49 873.06 L1625.49 871.21 L1625.49 869.35 L1625.49 867.50 L1625.50 865.65 L1625.50 863.79 L1625.50 861.94 L1625.50 860.09 L1625.50 858.23 L1625.50 856.38 L1625.51 854.53 L1625.51 852.68 L1625.51 850.82 L1625.51 848.97 L1625.51 847.12 L1625.51 845.26 L1625.51 843.41 L1625.51 841.56 L1625.51 839.70 L1625.51 837.85 L1625.51 836.00 L1625.51 834.15 L1625.51 832.29 L1625.51 830.44 L1625.51 828.59 L1625.50 826.73 L1625.50 824.88 L1625.50 823.03 L1625.49 821.18 L1625.49 819.32 L1625.48 817.47 L1625.48 815.62 L1625.48 813.76 L1625.47 811.91 L1625.47 810.06 L1625.46 808.21 L1625.46 806.35 L1625.46 804.50 L1625.46 802.65 L1625.46 800.79 L1625.46 798.94 L1625.46 797.09 L1625.47 795.23 L1625.47 793.38 L1625.48 791.53 L1625.49 789.67 L1625.50 787.82 L1625.51 785.97 L1625.52 784.12 L1625.54 782.26 L1625.55 780.41 L1625.57 778.56 L1625.59 776.70 L1625.60 774.85 L1625.62 773.00 L1625.63 771.14 L1625.64 769.29 L1625.65 767.44 L1625.65 765.58 L1625.65 763.73 L1625.65 761.88 L1625.64 760.02 L1625.63 758.17 L1625.61 756.32 L1625.59 754.47 L1625.56 752.61 L1625.52 750.76 L1625.47 748.91 L1625.42 747.06 L1625.36 745.21 L1625.29 743.35 L1625.22 741.50 L1625.15 739.65 L1625.06 737.80 L1624.98 735.95 L1624.89 734.10 L1624.80 732.25 L1624.71 730.40 L1624.61 728.55 L1624.51 726.70 L1624.42 724.84 L1624.32 722.99 L1624.22 721.14 L1624.13 719.29 L1624.03 717.44 L1623.94 715.59 L1623.84 713.74 L1623.75 711.89 L1623.66 710.04 L1623.56 708.19 L1623.46 706.34 L1623.36 704.49 L1623.26 702.64 L1623.15 700.79 L1623.04 698.94 L1622.93 697.09 L1622.82 695.24 L1622.69 693.39 L1622.57 691.54 L1622.44 689.69 L1622.30 687.85 L1622.16 686.00 L1622.01 684.15 L1621.87 682.30 L1621.71 680.46 L1621.56 678.61 L1621.40 676.76 L1621.24 674.92 L1621.08 673.07 L1620.92 671.23 L1620.76 669.38 L1620.60 667.53 L1620.44 665.69 L1620.27 663.84 L1620.11 662.00 L1619.95 660.15 L1619.79 658.30 L1619.63 656.46 L1619.48 654.61 L1619.32 652.77 L1619.16 650.92 L1618.99 649.07 L1618.83 647.23 L1618.67 645.38 L1618.50 643.53 L1618.33 641.69 L1618.16 639.84 L1617.98 638.00 L1617.80 636.15 L1617.62 634.31 L1617.43 632.46 L1617.24 630.62 L1617.04 628.78 L1616.83 626.93 L1616.62 625.09 L1616.41 623.25 L1616.18 621.41 L1615.95 619.57 L1615.71 617.74 L1615.46 615.90 L1615.20 614.07 L1614.94 612.23 L1614.66 610.40 L1614.38 608.57 L1614.08 606.74 L1613.78 604.92 L1613.46 603.09 L1613.14 601.27 L1612.81 599.44 L1612.48 597.62 L1612.13 595.80 L1611.78 593.98 L1611.42 592.16 L1611.06 590.35 L1610.69 588.53 L1610.32 586.72 L1609.94 584.90 L1609.56 583.09 L1609.17 581.27 L1608.78 579.46 L1608.39 577.65 L1607.99 575.84 L1607.59 574.03 L1607.19 572.22 L1606.79 570.40 L1606.39 568.59 L1605.98 566.79 L1605.58 564.98 L1605.17 563.17 L1604.76 561.36 L1604.35 559.55 L1603.93 557.74 L1603.51 555.94 L1603.09 554.13 L1602.66 552.33 L1602.23 550.53 L1601.80 548.73 L1601.35 546.93 L1600.91 545.13 L1600.45 543.33 L1600.00 541.54 L1599.53 539.75 L1599.06 537.95 L1598.58 536.17 L1598.09 534.38 L1597.59 532.59 L1597.09 530.81 L1596.58 529.03 L1596.06 527.25 L1595.53 525.48 L1595.00 523.71 L1594.45 521.93 L1593.91 520.16 L1593.35 518.40 L1592.79 516.63 L1592.23 514.86 L1591.66 513.10 L1591.09 511.34 L1590.51 509.58 L1589.92 507.82 L1589.34 506.06 L1588.75 504.30 L1588.16 502.54 L1587.56 500.79 L1586.96 499.03 L1586.37 497.28 L1585.76 495.52 L1585.16 493.77 L1584.56 492.02 L1583.96 490.26 L1583.35 488.51 L1582.74 486.76 L1582.13 485.01 L1581.52 483.26 L1580.91 481.51 L1580.29 479.77 L1579.67 478.02 L1579.04 476.28 L1578.42 474.53 L1577.79 472.79 L1577.15 471.05 L1576.51 469.31 L1575.87 467.57 L1575.22 465.84 L1574.57 464.10 L1573.91 462.37 L1573.25 460.64 L1572.58 458.91 L1571.90 457.19 L1571.22 455.46 L1570.54 453.74 L1569.84 452.02 L1569.15 450.31 L1568.44 448.59 L1567.73 446.88 L1567.02 445.17 L1566.30 443.46 L1565.57 441.76 L1564.84 440.06 L1564.10 438.36 L1563.36 436.66 L1562.61 434.96 L1561.85 433.27 L1561.09 431.58 L1560.33 429.89 L1559.56 428.21 L1558.78 426.52 L1558.00 424.84 L1557.21 423.16 L1556.42 421.49 L1555.62 419.81 L1554.82 418.14 L1554.01 416.48 L1553.20 414.81 L1552.38 413.15 L1551.56 411.49 L1550.73 409.83 L1549.90 408.17 L1549.06 406.52 L1548.21 404.87 L1547.36 403.22 L1546.51 401.58 L1545.65 399.94 L1544.78 398.30 L1543.91 396.66 L1543.04 395.03 L1542.15 393.40 L1541.27 391.77 L1540.38 390.15 L1539.48 388.53 L1538.58 386.91 L1537.67 385.29 L1536.76 383.68 L1535.84 382.07 L1534.92 380.46 L1533.99 378.86 L1533.05 377.26 L1532.11 375.66 L1531.17 374.06 L1530.22 372.47 L1529.27 370.88 L1528.31 369.30 L1527.34 367.72 L1526.37 366.14 L1525.40 364.56 L1524.41 362.99 L1523.43 361.42 L1522.44 359.85 L1521.44 358.29 L1520.44 356.73 L1519.44 355.17 L1518.42 353.62 L1517.41 352.07 L1516.39 350.52 L1515.36 348.98 L1514.33 347.44 L1513.29 345.90 L1512.25 344.37 L1511.20 342.84 L1510.15 341.32 L1509.10 339.79 L1508.03 338.27 L1506.97 336.76 L1505.90 335.25 L1504.82 333.74 L1503.74 332.23 L1502.65 330.73 L1501.56 329.23 L1500.46 327.74 L1499.36 326.25 L1498.26 324.76 L1497.14 323.28 L1496.03 321.80 L1494.91 320.32 L1493.78 318.85 L1492.65 317.38 L1491.52 315.92 L1490.38 314.46 L1489.23 313.00 L1488.08 311.54 L1486.93 310.09 L1485.77 308.65 L1484.60 307.21 L1483.43 305.77 L1482.26 304.33 L1481.08 302.90 L1479.90 301.48 L1478.71 300.05 L1477.52 298.63 L1476.32 297.22 L1475.12 295.81 L1473.91 294.40 L1472.70 293.00 L1471.49 291.60 L1470.27 290.20 L1469.04 288.81 L1467.82 287.43 L1466.58 286.04 L1465.34 284.66 L1464.10 283.29 L1462.85 281.92 L1461.60 280.55 L1460.35 279.19 L1459.09 277.83 L1457.82 276.47 L1456.55 275.12 L1455.28 273.78 L1454.00 272.43 L1452.72 271.10 L1451.43 269.76 L1450.14 268.43 L1448.85 267.11 L1447.55 265.78 L1446.24 264.47 L1444.94 263.15 L1443.62 261.85 L1442.31 260.54 L1440.99 259.24 L1439.66 257.94 L1438.33 256.65 L1437.00 255.37 L1435.66 254.08 L1434.32 252.80 L1432.97 251.53 L1431.62 250.26 L1430.27 248.99 L1428.91 247.73 L1427.55 246.48 L1426.18 245.22 L1424.81 243.97 L1423.44 242.73 L1422.06 241.49 L1420.68 240.26 L1419.29 239.03 L1417.90 237.80 L1416.51 236.58 L1415.11 235.36 L1413.71 234.15 L1412.31 232.94 L1410.90 231.74 L1409.48 230.54 L1408.07 229.34 L1406.65 228.15 L1405.22 226.97 L1403.79 225.79 L1402.36 224.61 L1400.92 223.44 L1399.49 222.27 L1398.04 221.11 L1396.60 219.95 L1395.15 218.80 L1393.69 217.65 L1392.23 216.50 L1390.77 215.36 L1389.31 214.23 L1387.84 213.10 L1386.37 211.97 L1384.89 210.85 L1383.41 209.73 L1381.93 208.62 L1380.45 207.51 L1378.96 206.41 L1377.46 205.31 L1375.97 204.21 L1374.47 203.12 L1372.97 202.04 L1371.46 200.96 L1369.95 199.89 L1368.44 198.81 L1366.92 197.75 L1365.40 196.69 L1363.88 195.63 L1362.35 194.58 L1360.82 193.54 L1359.29 192.50 L1357.75 191.46 L1356.21 190.43 L1354.67 189.40 L1353.12 188.38 L1351.57 187.37 L1350.02 186.35 L1348.46 185.35 L1346.90 184.35 L1345.34 183.35 L1343.77 182.36 L1342.20 181.38 L1340.63 180.39 L1339.05 179.42 L1337.48 178.45 L1335.89 177.48 L1334.31 176.52 L1332.72 175.56 L1331.13 174.61 L1329.54 173.67 L1327.94 172.72 L1326.34 171.79 L1324.74 170.85 L1323.14 169.93 L1321.53 169.00 L1319.92 168.09 L1318.31 167.17 L1316.69 166.26 L1315.08 165.36 L1313.46 164.46 L1311.83 163.56 L1310.21 162.67 L1308.58 161.79 L1306.95 160.91 L1305.32 160.03 L1303.68 159.15 L1302.05 158.29 L1300.41 157.42 L1298.77 156.56 L1297.12 155.70 L1295.48 154.85 L1293.83 154.00 L1292.18 153.15 L1290.53 152.31 L1288.88 151.47 L1287.23 150.63 L1285.57 149.80 L1283.91 148.97 L1282.25 148.15 L1280.59 147.33 L1278.93 146.51 L1277.26 145.69 L1275.60 144.88 L1273.93 144.08 L1272.26 143.27 L1270.59 142.47 L1268.91 141.68 L1267.24 140.89 L1265.56 140.10 L1263.88 139.32 L1262.20 138.55 L1260.51 137.77 L1258.82 137.01 L1257.13 136.25 L1255.44 135.49 L1253.75 134.74 L1252.05 133.99 L1250.35 133.25 L1248.65 132.52 L1246.95 131.79 L1245.24 131.07 L1243.53 130.36 L1241.82 129.65 L1240.10 128.94 L1238.38 128.24 L1236.66 127.55 L1234.94 126.87 L1233.22 126.19 L1231.49 125.52 L1229.76 124.86 L1228.02 124.20 L1226.29 123.55 L1224.55 122.91 L1222.81 122.27 L1221.07 121.64 L1219.32 121.02 L1217.57 120.40 L1215.82 119.79 L1214.07 119.19 L1212.31 118.60 L1210.55 118.02 L1208.79 117.44 L1207.03 116.87 L1205.26 116.31 L1203.49 115.75 L1201.72 115.21 L1199.95 114.67 L1198.17 114.13 L1196.40 113.61 L1194.62 113.09 L1192.84 112.58 L1191.05 112.07 L1189.27 111.58 L1187.48 111.08 L1185.69 110.60 L1183.90 110.12 L1182.11 109.65 L1180.31 109.18 L1178.52 108.73 L1176.72 108.27 L1174.92 107.83 L1173.12 107.39 L1171.32 106.95 L1169.51 106.52 L1167.71 106.10 L1165.90 105.69 L1164.10 105.28 L1162.29 104.87 L1160.48 104.47 L1158.67 104.08 L1156.85 103.69 L1155.04 103.31 L1153.22 102.94 L1151.41 102.57 L1149.59 102.21 L1147.77 101.85 L1145.95 101.50 L1144.13 101.15 L1142.31 100.82 L1140.49 100.48 L1138.66 100.16 L1136.84 99.83 L1135.01 99.52 L1133.18 99.21 L1131.35 98.91 L1129.53 98.61 L1127.70 98.32 L1125.86 98.03 L1124.03 97.75 L1122.20 97.48 L1120.36 97.21 L1118.53 96.95 L1116.69 96.70 L1114.86 96.45 L1113.02 96.20 L1111.18 95.96 L1109.34 95.73 L1107.50 95.51 L1105.66 95.29 L1103.82 95.07 L1101.98 94.87 L1100.14 94.67 L1098.30 94.47 L1096.45 94.28 L1094.61 94.10 L1092.76 93.92 L1090.92 93.75 L1089.07 93.58 L1087.23 93.42 L1085.38 93.27 L1083.53 93.12 L1081.68 92.98 L1079.83 92.85 L1077.99 92.72 L1076.14 92.60 L1074.29 92.48 L1072.44 92.37 L1070.59 92.26 L1068.74 92.16 L1066.88 92.07 L1065.03 91.98 L1063.18 91.90 L1061.33 91.82 L1059.48 91.75 L1057.63 91.69 L1055.77 91.63 L1053.92 91.58 L1052.07 91.53 L1050.22 91.49 L1048.36 91.45 L1046.51 91.42 L1044.66 91.40 L1042.80 91.38 L1040.95 91.37 L1039.10 91.36 L1037.24 91.36 L1035.39 91.36 L1033.54 91.37 L1031.68 91.39 L1029.83 91.41 L1027.98 91.44 L1026.12 91.47 L1024.27 91.51 L1022.42 91.56 L1020.57 91.61 L1018.71 91.66 L1016.86 91.72 L1015.01 91.79 L1013.16 91.86 L1011.31 91.94 L1009.45 92.03 L1007.60 92.12 L1005.75 92.21 L1003.90 92.31 L1002.05 92.42 L1000.20 92.53 L998.35 92.65 L996.50 92.78 L994.65 92.91 L992.81 93.04 L990.96 93.18 L989.11 93.33 L987.26 93.48 L985.42 93.64 L983.57 93.81 L981.72 93.98 L979.88 94.15 L978.04 94.34 L976.19 94.52 L974.35 94.72 L972.51 94.92 L970.66 95.12 L968.82 95.34 L966.98 95.55 L965.14 95.78 L963.30 96.01 L961.47 96.24 L959.63 96.48 L957.79 96.73 L955.95 96.98 L954.12 97.24 L952.29 97.51 L950.45 97.78 L948.62 98.05 L946.79 98.34 L944.96 98.62 L943.13 98.92 L941.30 99.22 L939.47 99.53 L937.64 99.84 L935.82 100.16 L933.99 100.48 L932.17 100.81 L930.35 101.15 L928.53 101.49 L926.70 101.84 L924.89 102.19 L923.07 102.55 L921.25 102.92 L919.44 103.29 L917.62 103.67 L915.81 104.05 L914.00 104.44 L912.19 104.84 L910.38 105.24 L908.57 105.65 L906.76 106.07 L904.96 106.49 L903.15 106.91 L901.35 107.34 L899.55 107.78 L897.75 108.23 L895.95 108.68 L894.16 109.14 L892.36 109.60 L890.57 110.07 L888.78 110.54 L886.99 111.02 L885.20 111.51 L883.41 112.00 L881.63 112.50 L879.85 113.01 L878.06 113.52 L876.28 114.04 L874.51 114.56 L872.73 115.09 L870.96 115.63 L869.18 116.17 L867.41 116.72 L865.65 117.27 L863.88 117.83 L862.11 118.40 L860.35 118.97 L858.59 119.55 L856.83 120.13 L855.07 120.73 L853.32 121.32 L851.57 121.93 L849.82 122.53 L848.07 123.15 L846.32 123.77 L844.58 124.40 L842.84 125.03 L841.10 125.67 L839.36 126.32 L837.62 126.97 L835.89 127.63 L834.16 128.29 L832.43 128.96 L830.71 129.64 L828.98 130.32 L827.26 131.01 L825.55 131.70 L823.83 132.40 L822.12 133.11 L820.41 133.83 L818.70 134.55 L816.99 135.27 L815.29 136.00 L813.59 136.74 L811.89 137.48 L810.20 138.23 L808.51 138.99 L806.82 139.75 L805.13 140.52 L803.45 141.29 L801.76 142.07 L800.09 142.86 L798.41 143.65 L796.74 144.45 L795.07 145.25 L793.40 146.06 L791.73 146.87 L790.07 147.69 L788.41 148.52 L786.75 149.35 L785.10 150.18 L783.45 151.03 L781.80 151.87 L780.15 152.73 L778.51 153.58 L776.87 154.45 L775.23 155.32 L773.60 156.19 L771.97 157.07 L770.34 157.96 L768.72 158.85 L767.09 159.74 L765.47 160.64 L763.86 161.55 L762.24 162.46 L760.63 163.38 L759.03 164.30 L757.42 165.23 L755.82 166.16 L754.22 167.10 L752.63 168.05 L751.04 169.00 L749.45 169.95 L747.86 170.91 L746.28 171.87 L744.70 172.84 L743.12 173.82 L741.55 174.80 L739.98 175.79 L738.41 176.78 L736.85 177.77 L735.29 178.77 L733.74 179.78 L732.18 180.79 L730.63 181.81 L729.09 182.83 L727.54 183.86 L726.00 184.89 L724.47 185.93 L722.93 186.97 L721.41 188.01 L719.88 189.07 L718.36 190.12 L716.84 191.18 L715.32 192.25 L713.81 193.32 L712.30 194.40 L710.80 195.48 L709.30 196.57 L707.80 197.66 L706.30 198.76 L704.81 199.86 L703.33 200.97 L701.84 202.08 L700.36 203.19 L698.89 204.31 L697.42 205.44 L695.95 206.57 L694.48 207.71 L693.02 208.85 L691.57 209.99 L690.11 211.14 L688.66 212.30 L687.22 213.46 L685.77 214.62 L684.34 215.79 L682.90 216.96 L681.47 218.14 L680.04 219.32 L678.62 220.51 L677.20 221.70 L675.79 222.90 L674.38 224.10 L672.97 225.31 L671.57 226.52 L670.17 227.73 L668.77 228.95 L667.38 230.18 L665.99 231.41 L664.61 232.64 L663.23 233.88 L661.86 235.12 L660.48 236.37 L659.12 237.62 L657.75 238.88 L656.40 240.14 L655.04 241.40 L653.69 242.67 L652.34 243.95 L651.00 245.22 L649.66 246.51 L648.33 247.79 L647.00 249.08 L645.68 250.38 L644.35 251.68 L643.04 252.98 L641.73 254.29 L640.42 255.61 L639.11 256.92 L637.81 258.24 L636.52 259.57 L635.23 260.90 L633.94 262.23 L632.66 263.57 L631.38 264.91 L630.11 266.26 L628.84 267.61 L627.57 268.96 L626.31 270.32 L625.06 271.69 L623.80 273.05 L622.56 274.42 L621.31 275.80 L620.08 277.18 L618.84 278.56 L617.61 279.95 L616.39 281.34 L615.17 282.73 L613.95 284.13 L612.74 285.54 L611.54 286.94 L610.33 288.35 L609.14 289.77 L607.94 291.19 L606.76 292.61 L605.57 294.04 L604.39 295.47 L603.22 296.90 L602.05 298.34 L600.88 299.78 L599.72 301.23 L598.57 302.67 L597.42 304.13 L596.27 305.58 L595.13 307.04 L593.99 308.51 L592.86 309.98 L591.74 311.45 L590.61 312.92 L589.50 314.40 L588.38 315.88 L587.28 317.37 L586.17 318.86 L585.07 320.35 L583.98 321.85 L582.89 323.35 L581.81 324.85 L580.73 326.36 L579.66 327.87 L578.59 329.38 L577.52 330.90 L576.46 332.42 L575.41 333.94 L574.36 335.47 L573.32 337.00 L572.28 338.54 L571.24 340.08 L570.21 341.62 L569.19 343.16 L568.17 344.71 L567.15 346.26 L566.14 347.81 L565.14 349.37 L564.14 350.93 L563.15 352.50 L562.16 354.06 L561.17 355.63 L560.19 357.21 L559.22 358.78 L558.25 360.36 L557.28 361.95 L556.33 363.53 L555.37 365.12 L554.42 366.71 L553.48 368.31 L552.54 369.91 L551.61 371.51 L550.68 373.11 L549.75 374.72 L548.84 376.33 L547.92 377.94 L547.02 379.56 L546.11 381.18 L545.22 382.80 L544.32 384.42 L543.44 386.05 L542.56 387.68 L541.68 389.31 L540.81 390.95 L539.94 392.59 L539.08 394.23 L538.23 395.87 L537.38 397.52 L536.54 399.17 L535.70 400.82 L534.86 402.48 L534.04 404.14 L533.21 405.80 L532.40 407.46 L531.59 409.13 L530.78 410.80 L529.98 412.47 L529.18 414.14 L528.39 415.82 L527.61 417.50 L526.83 419.18 L526.06 420.87 L525.29 422.55 L524.53 424.24 L523.77 425.93 L523.02 427.63 L522.28 429.32 L521.54 431.02 L520.80 432.73 L520.07 434.43 L519.35 436.14 L518.63 437.85 L517.92 439.56 L517.22 441.27 L516.52 442.99 L515.82 444.70 L515.13 446.43 L514.45 448.15 L513.77 449.87 L513.10 451.60 L512.43 453.33 L511.77 455.06 L511.12 456.80 L510.47 458.53 L509.82 460.27 L509.19 462.01 L508.55 463.75 L507.93 465.50 L507.31 467.24 L506.69 468.99 L506.08 470.74 L505.48 472.49 L504.88 474.25 L504.29 476.00 L503.70 477.76 L503.12 479.52 L502.55 481.28 L501.98 483.05 L501.41 484.81 L500.86 486.58 L500.31 488.35 L499.76 490.12 L499.22 491.89 L498.68 493.67 L498.16 495.44 L497.63 497.22 L497.12 499.00 L496.60 500.78 L496.10 502.57 L495.60 504.35 L495.10 506.14 L494.62 507.93 L494.13 509.72 L493.66 511.51 L493.19 513.30 L492.72 515.09 L492.26 516.89 L491.81 518.69 L491.36 520.48 L490.92 522.28 L490.48 524.09 L490.05 525.89 L489.63 527.69 L489.21 529.50 L488.80 531.30 L488.39 533.11 L487.99 534.92 L487.60 536.73 L487.21 538.54 L486.82 540.36 L486.45 542.17 L486.07 543.99 L485.71 545.81 L485.35 547.62 L484.99 549.44 L484.65 551.26 L484.30 553.08 L483.97 554.91 L483.64 556.73 L483.31 558.55 L482.99 560.38 L482.68 562.21 L482.37 564.04 L482.07 565.86 L481.78 567.69 L481.49 569.52 L481.20 571.36 L480.92 573.19 L480.65 575.02 L480.39 576.86 L480.13 578.69 L479.87 580.53 L479.62 582.36 L479.38 584.20 L479.15 586.04 L478.91 587.88 L478.69 589.72 L478.47 591.56 L478.26 593.40 L478.05 595.24 L477.85 597.08 L477.65 598.93 L477.46 600.77 L477.28 602.61 L477.10 604.46 L476.93 606.30 L476.76 608.15 L476.60 610.00 L476.45 611.84 L476.30 613.69 L476.16 615.54 L476.02 617.39 L475.89 619.23 L475.77 621.08 L475.65 622.93 L475.53 624.78 L475.43 626.63 L475.33 628.48 L475.23 630.33 L475.14 632.19 L475.06 634.04 L474.98 635.89 L474.91 637.74 L474.84 639.59 L474.78 641.45 L474.73 643.30 L474.68 645.15 L474.64 647.00 L474.60 648.86 L474.57 650.71 L474.54 652.56 L474.52 654.42 L474.51 656.27 L474.50 658.12 L474.50 659.98 L474.50 661.83 L474.51 663.68 L474.53 665.54 L474.55 667.39 L474.58 669.24 L474.61 671.10 L474.65 672.95 L474.69 674.80 L474.74 676.65 L474.80 678.51 L474.86 680.36 L474.93 682.21 L475.00 684.06 L475.08 685.91 L475.17 687.77 L475.26 689.62 L475.35 691.47 L475.46 693.32 L475.56 695.17 L475.68 697.02 L475.80 698.87 L475.92 700.72 L476.06 702.56 L476.19 704.41 L476.34 706.26 L476.48 708.11 L476.64 709.95 L476.80 711.80 L476.97 713.65 L477.14 715.49 L477.32 717.34 L477.50 719.18 L477.69 721.03 L477.89 722.87 L478.09 724.71 L478.29 726.55 L478.51 728.39 L478.73 730.23 L478.95 732.07 L479.18 733.91 L479.42 735.75 L479.66 737.59 L479.91 739.42 L480.16 741.26 L480.42 743.10 L480.69 744.93 L480.96 746.76 L481.24 748.60 L481.52 750.43 L481.81 752.26 L482.11 754.09 L482.41 755.92 L482.71 757.74 L483.03 759.57 L483.35 761.40 L483.67 763.22 L484.00 765.04 L484.34 766.87 L484.68 768.69 L485.03 770.51 L485.38 772.33 L485.74 774.15 L486.11 775.96 L486.48 777.78 L486.86 779.59 L487.24 781.41 L487.63 783.22 L488.02 785.03 L488.43 786.84 L488.83 788.65 L489.25 790.45 L489.66 792.26 L490.09 794.06 L490.52 795.87 L490.96 797.67 L491.40 799.47 L491.85 801.26 L492.30 803.06 L492.76 804.86 L493.23 806.65 L493.70 808.44 L494.18 810.23 L494.66 812.02 L495.15 813.81 L495.65 815.60 L496.15 817.38 L496.65 819.16 L497.17 820.94 L497.69 822.72 L498.21 824.50 L498.74 826.28 L499.28 828.05 L499.82 829.82 L500.37 831.59 L500.92 833.36 L501.48 835.13 L502.05 836.89 L502.62 838.66 L503.20 840.42 L503.78 842.18 L504.37 843.93 L504.97 845.69 L505.57 847.44 L506.17 849.19 L506.79 850.94 L507.40 852.69 L508.03 854.43 L508.66 856.18 L509.29 857.92 L509.94 859.66 L510.58 861.39 L511.24 863.13 L511.90 864.86 L512.56 866.59 L513.23 868.32 L513.91 870.04 L514.59 871.77 L515.28 873.49 L515.97 875.21 L516.67 876.92 L517.38 878.64 L518.09 880.35 L518.80 882.06 L519.53 883.77 L520.25 885.47 L520.99 887.17 L521.73 888.87 L522.48 890.57 L523.23 892.26 L523.99 893.95 L524.75 895.64 L525.52 897.33 L526.29 899.01 L527.08 900.69 L527.86 902.37 L528.66 904.04 L529.45 905.72 L530.26 907.39 L531.07 909.05 L531.89 910.72 L532.71 912.38 L533.54 914.04 L534.37 915.69 L535.21 917.34 L536.05 918.99 L536.90 920.64 L537.76 922.28 L538.62 923.92 L539.49 925.56 L540.36 927.20 L541.24 928.83 L542.12 930.46 L543.01 932.08 L543.91 933.71 L544.81 935.33 L545.72 936.94 L546.63 938.56 L547.54 940.17 L548.47 941.78 L549.40 943.38 L550.33 944.98 L551.27 946.58 L552.21 948.17 L553.16 949.77 L554.11 951.36 L555.07 952.94 L556.04 954.52 L557.01 956.10 L557.98 957.68 L558.96 959.25 L559.95 960.82 L560.94 962.39 L561.93 963.95 L562.93 965.51 L563.94 967.07 L564.95 968.63 L565.96 970.18 L566.98 971.72 L568.00 973.27 L569.03 974.81 L570.07 976.35 L571.10 977.88 L572.15 979.42 L573.20 980.94 L574.25 982.47 L575.31 983.99 L576.37 985.51 L577.44 987.02 L578.51 988.54 L579.59 990.04 L580.67 991.55 L581.76 993.05 L582.85 994.55 L583.95 996.04 L585.05 997.53 L586.15 999.02 L587.27 1000.50 L588.38 1001.98 L589.50 1003.46 L590.63 1004.93 L591.76 1006.40 L592.89 1007.86 L594.04 1009.32 L595.18 1010.78 L596.33 1012.23 L597.48 1013.68 L598.64 1015.13 L599.81 1016.57 L600.98 1018.01 L602.15 1019.44 L603.33 1020.87 L604.51 1022.30 L605.70 1023.72 L606.89 1025.14 L608.09 1026.56 L609.29 1027.97 L610.50 1029.38 L611.71 1030.78 L612.92 1032.18 L614.14 1033.58 L615.36 1034.97 L616.59 1036.35 L617.83 1037.74 L619.06 1039.12 L620.31 1040.49 L621.55 1041.86 L622.80 1043.23 L624.06 1044.60 L625.32 1045.96 L626.58 1047.31 L627.85 1048.66 L629.12 1050.01 L630.40 1051.35 L631.68 1052.69 L632.97 1054.02 L634.26 1055.36 L635.55 1056.68 L636.85 1058.00 L638.16 1059.32 L639.46 1060.63 L640.78 1061.94 L642.09 1063.25 L643.41 1064.55 L644.74 1065.85 L646.06 1067.14 L647.40 1068.43 L648.73 1069.71 L650.08 1070.99 L651.42 1072.26 L652.77 1073.53 L654.12 1074.80 L655.48 1076.06 L656.84 1077.32 L658.21 1078.57 L659.58 1079.82 L660.95 1081.06 L662.33 1082.30 L663.71 1083.54 L665.10 1084.77 L666.49 1085.99 L667.88 1087.21 L669.28 1088.43 L670.68 1089.64 L672.09 1090.85 L673.50 1092.05 L674.91 1093.25 L676.33 1094.45 L677.75 1095.64 L679.18 1096.82 L680.61 1098.00 L682.04 1099.18 L683.48 1100.35 L684.92 1101.51 L686.36 1102.68 L687.81 1103.83 L689.26 1104.98 L690.72 1106.13 L692.18 1107.27 L693.64 1108.41 L695.10 1109.54 L696.57 1110.67 L698.05 1111.80 L699.53 1112.92 L701.01 1114.03 L702.49 1115.14 L703.98 1116.24 L705.47 1117.34 L706.97 1118.44 L708.47 1119.53 L709.97 1120.61 L711.48 1121.69 L712.99 1122.77 L714.50 1123.84 L716.02 1124.90 L717.54 1125.96 L719.06 1127.02 L720.59 1128.07 L722.12 1129.12 L723.65 1130.16 L725.19 1131.19 L726.73 1132.22 L728.27 1133.25 L729.82 1134.27 L731.37 1135.28 L732.92 1136.29 L734.48 1137.30 L736.04 1138.30 L737.60 1139.30 L739.17 1140.29 L740.74 1141.27 L742.31 1142.25 L743.89 1143.23 L745.47 1144.20 L747.05 1145.16 L748.63 1146.12 L750.22 1147.08 L751.81 1148.03 L753.41 1148.97 L755.01 1149.91 L756.61 1150.84 L758.21 1151.77 L759.82 1152.70 L761.43 1153.61 L763.04 1154.53 L764.66 1155.43 L766.28 1156.34 L767.90 1157.23 L769.52 1158.13 L771.15 1159.01 L772.78 1159.90 L774.41 1160.77 L776.05 1161.64 L777.69 1162.51 L779.33 1163.37 L780.97 1164.22 L782.62 1165.07 L784.27 1165.92 L785.92 1166.76 L787.58 1167.59 L789.24 1168.42 L790.90 1169.24 L792.56 1170.06 L794.23 1170.87 L795.89 1171.68 L797.57 1172.48 L799.24 1173.28 L800.92 1174.07 L802.59 1174.85 L804.28 1175.63 L805.96 1176.40 L807.65 1177.17 L809.33 1177.94 L811.03 1178.69 L812.72 1179.45 L814.42 1180.19 L816.11 1180.93 L817.82 1181.67 L819.52 1182.40 L821.22 1183.13 L822.93 1183.84 L824.64 1184.56 L826.36 1185.27 L828.07 1185.97 L829.79 1186.67 L831.51 1187.36 L833.23 1188.04 L834.95 1188.72 L836.68 1189.40 L838.41 1190.07 L840.14 1190.73 L841.87 1191.39 L843.61 1192.04 L845.34 1192.69 L847.08 1193.33 L848.82 1193.97 L850.57 1194.60 L852.31 1195.22 L854.06 1195.84 L855.81 1196.45 L857.56 1197.06 L859.31 1197.66 L861.07 1198.26 L862.82 1198.85 L864.58 1199.43 L866.34 1200.01 L868.10 1200.58 L869.87 1201.15 L871.63 1201.71 L873.40 1202.27 L875.17 1202.82 L876.94 1203.36 L878.72 1203.90 L880.49 1204.44 L882.27 1204.96 L884.05 1205.48 L885.83 1206.00 L887.61 1206.51 L889.39 1207.01 L891.18 1207.51 L892.96 1208.01 L894.75 1208.49 L896.54 1208.97 L898.33 1209.45 L900.13 1209.92 L901.92 1210.38 L903.72 1210.84 L905.51 1211.29 L907.31 1211.74 L909.11 1212.18 L910.91 1212.61 L912.72 1213.04 L914.52 1213.47 L916.33 1213.88 L918.13 1214.30 L919.94 1214.70 L921.75 1215.10 L923.56 1215.49 L925.38 1215.88 L927.19 1216.27 L929.00 1216.64 L930.82 1217.01 L932.64 1217.38 L934.46 1217.74 L936.28 1218.09 L938.10 1218.43 L939.92 1218.78 L941.74 1219.11 L943.56 1219.44 L945.39 1219.76 L947.22 1220.08 L949.04 1220.39 L950.87 1220.70 L952.70 1221.00 L954.53 1221.29 L956.36 1221.58 L958.19 1221.86 L960.02 1222.14 L961.86 1222.41 L963.69 1222.67 L965.53 1222.93 L967.36 1223.18 L969.20 1223.43 L971.04 1223.67 L972.88 1223.90 L974.72 1224.13 L976.56 1224.36 L978.40 1224.57 L980.24 1224.78 L982.08 1224.99 L983.92 1225.19 L985.77 1225.38 L987.61 1225.57 L989.45 1225.75 L991.30 1225.92 L993.14 1226.09 L994.99 1226.25 L996.84 1226.41 L998.68 1226.56 L1000.53 1226.71 L1002.38 1226.85 L1004.23 1226.98 L1006.08 1227.11 L1007.93 1227.23 L1009.78 1227.34 L1011.63 1227.45 L1013.48 1227.56 L1015.33 1227.66 L1017.18 1227.75 L1019.03 1227.83 L1020.88 1227.91 L1022.73 1227.98 L1024.59 1228.05 L1026.44 1228.11 L1028.29 1228.17 L1030.14 1228.22 L1032.00 1228.26 L1033.85 1228.30 L1035.70 1228.33 L1037.56 1228.36 L1039.41 1228.38 L1041.26 1228.39 L1043.12 1228.40 L1044.97 1228.40 L1046.82 1228.40 L1048.68 1228.39 L1050.53 1228.37 L1052.38 1228.35 L1054.24 1228.32 L1056.09 1228.29 L1057.94 1228.25 L1059.79 1228.20 L1061.65 1228.15 L1063.50 1228.09 L1065.35 1228.03 L1067.20 1227.96 L1069.06 1227.89 L1070.91 1227.80 L1072.76 1227.72 L1074.61 1227.63 L1076.46 1227.53 L1078.31 1227.42 L1080.16 1227.31 L1082.01 1227.20 L1083.86 1227.08 L1085.71 1226.95 L1087.56 1226.82 L1089.41 1226.68 L1091.25 1226.53 L1093.10 1226.38 L1094.95 1226.23 L1096.79 1226.07 L1098.64 1225.90 L1100.48 1225.73 L1102.33 1225.55 L1104.17 1225.36 L1106.02 1225.17 L1107.86 1224.97 L1109.70 1224.77 L1111.54 1224.56 L1113.38 1224.35 L1115.22 1224.13 L1117.06 1223.90 L1118.90 1223.67 L1120.74 1223.43 L1122.58 1223.19 L1124.41 1222.94 L1126.25 1222.68 L1128.08 1222.42 L1129.92 1222.16 L1131.75 1221.88 L1133.58 1221.60 L1135.42 1221.32 L1137.25 1221.03 L1139.08 1220.73 L1140.90 1220.43 L1142.73 1220.12 L1144.56 1219.81 L1146.38 1219.49 L1148.21 1219.17 L1150.03 1218.84 L1151.85 1218.50 L1153.68 1218.16 L1155.50 1217.81 L1157.32 1217.45 L1159.13 1217.09 L1160.95 1216.73 L1162.77 1216.36 L1164.58 1215.98 L1166.39 1215.59 L1168.21 1215.21 L1170.02 1214.81 L1171.83 1214.41 L1173.63 1214.00 L1175.44 1213.59 L1177.25 1213.17 L1179.05 1212.75 L1180.85 1212.32 L1182.66 1211.88 L1184.46 1211.44 L1186.25 1211.00 L1188.05 1210.54 L1189.85 1210.08 L1191.64 1209.62 L1193.43 1209.15 L1195.22 1208.67 L1197.01 1208.19 L1198.80 1207.70 L1200.59 1207.21 L1202.37 1206.71 L1204.16 1206.21 L1205.94 1205.70 L1207.72 1205.18 L1209.50 1204.66 L1211.27 1204.13 L1213.05 1203.60 L1214.82 1203.06 L1216.59 1202.51 L1218.36 1201.96 L1220.13 1201.41 L1221.90 1200.84 L1223.66 1200.28 L1225.42 1199.70 L1227.18 1199.12 L1228.94 1198.54 L1230.70 1197.95 L1232.45 1197.35 L1234.21 1196.75 L1235.96 1196.14 L1237.71 1195.53 L1239.45 1194.91 L1241.20 1194.28 L1242.94 1193.65 L1244.68 1193.02 L1246.42 1192.37 L1248.16 1191.73 L1249.89 1191.07 L1251.62 1190.42 L1253.35 1189.75 L1255.08 1189.08 L1256.81 1188.40 L1258.53 1187.72 L1260.25 1187.04 L1261.97 1186.34 L1263.69 1185.64 L1265.40 1184.94 L1267.11 1184.23 L1268.82 1183.52 L1270.53 1182.79 L1272.24 1182.07 L1273.94 1181.34 L1275.64 1180.60 L1277.34 1179.85 L1279.03 1179.11 L1280.72 1178.35 L1282.42 1177.59 L1284.10 1176.83 L1285.79 1176.06 L1287.47 1175.28 L1289.15 1174.50 L1290.83 1173.71 L1292.50 1172.92 L1294.18 1172.12 L1295.85 1171.31 L1297.51 1170.51 L1299.18 1169.69 L1300.84 1168.87 L1302.50 1168.05 L1304.16 1167.22 L1305.81 1166.38 L1307.46 1165.54 L1309.11 1164.69 L1310.76 1163.84 L1312.40 1162.98 L1314.04 1162.12 L1315.68 1161.25 L1317.31 1160.38 L1318.95 1159.50 L1320.58 1158.62 L1322.20 1157.73 L1323.83 1156.83 L1325.45 1155.93 L1327.06 1155.03 L1328.68 1154.12 L1330.29 1153.20 L1331.90 1152.28 L1333.50 1151.35 L1335.10 1150.42 L1336.70 1149.48 L1338.30 1148.54 L1339.89 1147.59 L1341.48 1146.64 L1343.06 1145.68 L1344.65 1144.71 L1346.23 1143.74 L1347.80 1142.77 L1349.38 1141.79 L1350.94 1140.80 L1352.51 1139.81 L1354.07 1138.81 L1355.63 1137.81 L1357.19 1136.81 L1358.74 1135.79 L1360.29 1134.77 L1361.83 1133.75 L1363.38 1132.72 L1364.91 1131.69 L1366.45 1130.65 L1367.98 1129.61 L1369.51 1128.56 L1371.03 1127.50 L1372.55 1126.44 L1374.07 1125.37 L1375.58 1124.30 L1377.09 1123.23 L1378.59 1122.15 L1380.10 1121.06 L1381.59 1119.97 L1383.09 1118.87 L1384.58 1117.77 L1386.06 1116.66 L1387.55 1115.55 L1389.03 1114.43 L1390.50 1113.31 L1391.97 1112.18 L1393.44 1111.05 L1394.90 1109.91 L1396.36 1108.77 L1397.82 1107.62 L1399.27 1106.47 L1400.72 1105.32 L1402.16 1104.15 L1403.60 1102.99 L1405.04 1101.82 L1406.47 1100.64 L1407.90 1099.46 L1409.33 1098.27 L1410.75 1097.08 L1412.16 1095.89 L1413.58 1094.69 L1414.98 1093.49 L1416.39 1092.28 L1417.79 1091.06 L1419.19 1089.85 L1420.58 1088.62 L1421.97 1087.40 L1423.35 1086.16 L1424.73 1084.93 L1426.11 1083.69 L1427.48 1082.44 L1428.85 1081.19 L1430.22 1079.94 L1431.58 1078.68 L1432.93 1077.41 L1434.28 1076.15 L1435.63 1074.87 L1436.97 1073.60 L1438.31 1072.31 L1439.65 1071.03 L1440.98 1069.74 L1442.31 1068.44 L1443.63 1067.15 L1444.95 1065.84 L1446.26 1064.54 L1447.57 1063.22 L1448.87 1061.91 L1450.17 1060.59 L1451.47 1059.26 L1452.76 1057.93 L1454.05 1056.60 L1455.33 1055.26 L1456.61 1053.92 L1457.89 1052.58 L1459.16 1051.23 L1460.42 1049.88 L1461.69 1048.52 L1462.94 1047.16 L1464.20 1045.79 L1465.44 1044.42 L1466.69 1043.05 L1467.93 1041.67 L1469.16 1040.29 L1470.39 1038.90 L1471.62 1037.51 L1472.84 1036.12 L1474.06 1034.72 L1475.27 1033.32 L1476.48 1031.91 L1477.68 1030.50 L1478.88 1029.09 L1480.08 1027.67 L1481.27 1026.25 L1482.45 1024.83 L1483.63 1023.40 L1484.81 1021.97 L1485.98 1020.53 L1487.15 1019.09 L1488.31 1017.65 L1489.47 1016.20 L1490.63 1014.75 L1491.78 1013.30 L1492.92 1011.84 L1494.06 1010.38 L1495.20 1008.92 L1496.33 1007.45 L1497.45 1005.98 L1498.57 1004.50 L1499.69 1003.02 L1500.80 1001.54 L1501.91 1000.05 L1503.01 998.56 L1504.11 997.07 L1505.20 995.57 L1506.29 994.07 L1507.37 992.57 L1508.45 991.06 L1509.52 989.55 L1510.59 988.03 L1511.66 986.52 L1512.71 985.00 L1513.77 983.47 L1514.82 981.94 L1515.86 980.41 L1516.90 978.88 L1517.93 977.34 L1518.96 975.80 L1519.99 974.25 L1521.01 972.70 L1522.02 971.15 L1523.03 969.60 L1524.03 968.04 L1525.03 966.48 L1526.03 964.91 L1527.01 963.35 L1528.00 961.78 L1528.98 960.20 L1529.95 958.63 L1530.92 957.04 L1531.88 955.46 L1532.84 953.88 L1533.79 952.29 L1534.74 950.69 L1535.68 949.10 L1536.62 947.50 L1537.55 945.90 L1538.48 944.29 L1539.40 942.68 L1540.32 941.07 L1541.23 939.46 L1542.13 937.84 L1543.03 936.22 L1543.93 934.60 L1544.82 932.97 L1545.71 931.35 L1546.58 929.71 L1547.46 928.08 L1548.33 926.44 L1549.19 924.80 L1550.05 923.16 L1550.90 921.51 L1551.75 919.87 L1552.59 918.22 L1553.43 916.56 L1554.26 914.91 L1555.09 913.25 L1555.91 911.58 L1556.72 909.92 L1557.53 908.25 L1558.34 906.58 L1559.13 904.91 L1559.93 903.24 L1560.72 901.56 L1561.50 899.88 L1562.27 898.19 L1563.05 896.51 L1563.81 894.82 L1564.57 893.13 L1565.33 891.44 L1566.08 889.74 L1566.82 888.05 L1567.56 886.35 L1568.29 884.64 L1569.02 882.94 L1569.74 881.23 L1570.45 879.52 L1571.16 877.81 L1571.87 876.10 L1572.57 874.38 L1573.26 872.66 L1573.95 870.94 L1574.63 869.22 L1575.31 867.49 L1575.98 865.76 L1576.64 864.03 L1577.30 862.30 L1577.96 860.57 L1578.60 858.83 L1579.25 857.09 L1579.88 855.35 L1580.51 853.61 L1581.14 851.86 L1581.76 850.12 L1582.37 848.37 L1582.98 846.62 L1583.58 844.86 L1584.18 843.11 L1584.77 841.35 L1585.35 839.59 L1585.93 837.83 L1586.50 836.07 L1587.07 834.31 L1587.63 832.54 L1588.19 830.77 L1588.74 829.00 L1589.28 827.23 L1589.82 825.46 L1590.35 823.68 L1590.88 821.90 L1591.40 820.12 L1591.91 818.34 L1592.42 816.56 L1592.92 814.78 L1593.42 812.99 L1593.91 811.20 L1594.39 809.42 L1594.87 807.63 L1595.34 805.83 L1595.81 804.04 L1596.27 802.24 L1596.73 800.45 L1597.18 798.65 L1597.62 796.85 L1598.06 795.05 L1598.49 793.25 L1598.91 791.44 L1599.33 789.64 L1599.75 787.83 L1600.16 786.02 L1600.56 784.21 L1600.95 782.40 L1601.34 780.59 L1601.73 778.78 L1602.11 776.96 L1602.48 775.15 L1602.84 773.33 L1603.20 771.51 L1603.56 769.69 L1603.91 767.87 L1604.25 766.05 L1604.59 764.23 L1604.92 762.41 L1605.24 760.58 L1605.56 758.76 L1605.87 756.93 L1606.18 755.10 L1606.48 753.27 L1606.78 751.44 L1607.06 749.61 L1607.35 747.78 L1607.62 745.95 L1607.90 744.12 L1608.16 742.28 L1608.42 740.45 L1608.67 738.61 L1608.92 736.77 L1609.16 734.94 L1609.40 733.10 L1609.63 731.26 L1609.85 729.42 L1610.07 727.58 L1610.28 725.74 L1610.49 723.90 L1610.69 722.05 L1610.88 720.21 L1611.07 718.37 L1611.25 716.52 L1611.43 714.68 L1611.60 712.83 L1611.77 710.99 L1611.92 709.14 L1612.08 707.29 L1612.22 705.44 L1612.37 703.60 L1612.50 701.75 L1612.63 699.90 L1612.75 698.05 L1612.87 696.20 L1612.98 694.35 L1613.09 692.50 L1613.19 690.65 L1613.28 688.80 L1613.37 686.95 L1613.45 685.10 L1613.53 683.24 L1613.60 681.39 L1613.66 679.54 L1613.72 677.69 L1613.77 675.83 L1613.82 673.98 L1613.86 672.13 L1613.89 670.28 L1613.92 668.42 L1613.94 666.57 L1613.96 664.72 L1613.97 662.86 L1613.98 661.01 L1613.97 659.16 L1613.97 657.30 L1613.95 655.45 L1613.93 653.60 L1613.91 651.74 L1613.88 649.89 L1613.84 648.04 L1613.80 646.18 L1613.75 644.33 L1613.69 642.48 L1613.63 640.63 L1613.56 638.77 L1613.49 636.92 L1613.41 635.07 L1613.32 633.22 L1613.23 631.37 L1613.13 629.52 L1613.03 627.67 L1612.92 625.82 L1612.80 623.97 L1612.68 622.12 L1612.55 620.27 L1612.42 618.42 L1612.27 616.57 L1612.13 614.73 L1611.98 612.88 L1611.82 611.03 L1611.65 609.19 L1611.48 607.34 L1611.30 605.50 L1611.12 603.65 L1610.93 601.81 L1610.74 599.96 L1610.54 598.12 L1610.33 596.28 L1610.12 594.44 L1609.90 592.60 L1609.68 590.76 L1609.45 588.92 L1609.21 587.08 L1608.97 585.24 L1608.72 583.41 L1608.47 581.57 L1608.21 579.74 L1607.95 577.90 L1607.67 576.07 L1607.40 574.24 L1607.12 572.40 L1606.83 570.57 L1606.54 568.74 L1606.24 566.91 L1605.93 565.09 L1605.62 563.26 L1605.31 561.43 L1604.99 559.61 L1604.66 557.78 L1604.33 555.96 L1603.99 554.14 L1603.65 552.32 L1603.30 550.50 L1602.94 548.68 L1602.58 546.86 L1602.22 545.04 L1601.85 543.23 L1601.47 541.41 L1601.09 539.60 L1600.70 537.79 L1600.30 535.98 L1599.90 534.17 L1599.50 532.36 L1599.09 530.55 L1598.67 528.74 L1598.25 526.94 L1597.82 525.14 L1597.39 523.33 L1596.95 521.53 L1596.50 519.73 L1596.05 517.94 L1595.60 516.14 L1595.13 514.35 L1594.67 512.55 L1594.19 510.76 L1593.71 508.97 L1593.22 507.18 L1592.73 505.40 L1592.23 503.61 L1591.73 501.83 L1591.22 500.05 L1590.70 498.27 L1590.18 496.49 L1589.65 494.71 L1589.11 492.94 L1588.57 491.16 L1588.03 489.39 L1587.47 487.63 L1586.91 485.86 L1586.34 484.09 L1585.77 482.33 L1585.19 480.57 L1584.61 478.81 L1584.02 477.06 L1583.42 475.30 L1582.82 473.55 L1582.21 471.80 L1581.59 470.05 L1580.97 468.30 L1580.35 466.56 L1579.71 464.82 L1579.07 463.08 L1578.43 461.34 L1577.78 459.60 L1577.12 457.87 L1576.46 456.14 L1575.79 454.41 L1575.12 452.68 L1574.44 450.96 L1573.76 449.24 L1573.06 447.52 L1572.37 445.80 L1571.67 444.08 L1570.96 442.37 L1570.24 440.66 L1569.53 438.95 L1568.80 437.25 L1568.07 435.54 L1567.34 433.84 L1566.59 432.14 L1565.85 430.45 L1565.09 428.75 L1564.34 427.06 L1563.57 425.37 L1562.80 423.69 L1562.03 422.00 L1561.25 420.32 L1560.46 418.64 L1559.67 416.97 L1558.88 415.29 L1558.07 413.62 L1557.27 411.96 L1556.45 410.29 L1555.64 408.63 L1554.81 406.97 L1553.98 405.31 L1553.15 403.65 L1552.31 402.00 L1551.46 400.35 L1550.61 398.71 L1549.76 397.06 L1548.90 395.42 L1548.03 393.78 L1547.16 392.15 L1546.28 390.51 L1545.40 388.88 L1544.51 387.26 L1543.62 385.63 L1542.72 384.01 L1541.82 382.39 L1540.91 380.78 L1539.99 379.17 L1539.07 377.56 L1538.15 375.95 L1537.22 374.35 L1536.28 372.75 L1535.34 371.15 L1534.40 369.56 L1533.45 367.97 L1532.49 366.38 L1531.53 364.79 L1530.56 363.21 L1529.59 361.63 L1528.61 360.06 L1527.63 358.49 L1526.65 356.92 L1525.65 355.35 L1524.66 353.79 L1523.65 352.23 L1522.65 350.68 L1521.63 349.12 L1520.62 347.57 L1519.59 346.03 L1518.57 344.49 L1517.53 342.95 L1516.50 341.41 L1515.45 339.88 L1514.41 338.35 L1513.35 336.83 L1512.30 335.30 L1511.23 333.78 L1510.17 332.27 L1509.09 330.76 L1508.02 329.25 L1506.94 327.75 L1505.85 326.24 L1504.76 324.75 L1503.66 323.25 L1502.56 321.76 L1501.45 320.28 L1500.34 318.79 L1499.22 317.31 L1498.10 315.84 L1496.98 314.37 L1495.85 312.90 L1494.71 311.43 L1493.57 309.97 L1492.42 308.51 L1491.27 307.06 L1490.12 305.61 L1488.96 304.16 L1487.80 302.72 L1486.63 301.28 L1485.46 299.85 L1484.28 298.42 L1483.10 296.99 L1481.91 295.57 L1480.72 294.15 L1479.52 292.73 L1478.32 291.32 L1477.11 289.91 L1475.90 288.51 L1474.69 287.11 L1473.47 285.71 L1472.24 284.32 L1471.02 282.94 L1469.78 281.55 L1468.55 280.17 L1467.30 278.80 L1466.06 277.42 L1464.81 276.06 L1463.55 274.69 L1462.29 273.33 L1461.03 271.98 L1459.76 270.63 L1458.48 269.28 L1457.21 267.94 L1455.93 266.60 L1454.64 265.27 L1453.35 263.93 L1452.05 262.61 L1450.76 261.29 L1449.45 259.97 L1448.14 258.66 L1446.83 257.35 L1445.52 256.04 L1444.20 254.74 L1442.87 253.45 L1441.54 252.15 L1440.21 250.87 L1438.87 249.58 L1437.53 248.30 L1436.18 247.03 L1434.83 245.76 L1433.48 244.49 L1432.12 243.23 L1430.76 241.98 L1429.39 240.72 L1428.02 239.48 L1426.65 238.23 L1425.27 236.99 L1423.89 235.76 L1422.50 234.53 L1421.11 233.30 L1419.72 232.08 L1418.32 230.87 L1416.92 229.65 L1415.51 228.45 L1414.10 227.24 L1412.69 226.05 L1411.27 224.85 L1409.85 223.66 L1408.42 222.48 L1406.99 221.30 L1405.56 220.13 L1404.12 218.96 L1402.68 217.79 L1401.24 216.63 L1399.79 215.47 L1398.33 214.32 L1396.88 213.17 L1395.42 212.03 L1393.96 210.90 L1392.49 209.76 L1391.02 208.64 L1389.54 207.51 L1388.06 206.39 L1386.58 205.28 L1385.10 204.17 L1383.61 203.07 L1382.12 201.97 L1380.62 200.88 L1379.12 199.79 L1377.62 198.70 L1376.11 197.63 L1374.60 196.55 L1373.09 195.48 L1371.57 194.42 L1370.05 193.36 L1368.52 192.30 L1367.00 191.25 L1365.47 190.21 L1363.93 189.17 L1362.39 188.13 L1360.85 187.11 L1359.31 186.08 L1357.76 185.06 L1356.21 184.05 L1354.65 183.04 L1353.10 182.03 L1351.54 181.03 L1349.97 180.04 L1348.40 179.05 L1346.83 178.07 L1345.26 177.09 L1343.68 176.11 L1342.10 175.14 L1340.52 174.18 L1338.93 173.22 L1337.34 172.27 L1335.75 171.32 L1334.16 170.38 L1332.56 169.44 L1330.96 168.51 L1329.35 167.58 L1327.74 166.66 L1326.13 165.74 L1324.52 164.83 L1322.90 163.92 L1321.28 163.02 L1319.66 162.13 L1318.04 161.24 L1316.41 160.35 L1314.78 159.47 L1313.14 158.60 L1311.51 157.73 L1309.87 156.86 L1308.22 156.01 L1306.58 155.15 L1304.93 154.30 L1303.28 153.46 L1301.63 152.63 L1299.97 151.79 L1298.31 150.97 L1296.65 150.15 L1294.98 149.33 L1293.32 148.52 L1291.65 147.72 L1289.98 146.92 L1288.30 146.12 L1286.62 145.34 L1284.94 144.55 L1283.26 143.78 L1281.58 143.00 L1279.89 142.24 L1278.20 141.48 L1276.51 140.72 L1274.81 139.97 L1273.11 139.23 L1271.41 138.49 L1269.71 137.76 L1268.01 137.03 L1266.30 136.31 L1264.59 135.59 L1262.88 134.88 L1261.16 134.18 L1259.45 133.48 L1257.73 132.78 L1256.01 132.09 L1254.29 131.41 L1252.56 130.73 L1250.83 130.06 L1249.10 129.40 L1247.37 128.74 L1245.64 128.08 L1243.90 127.43 L1242.16 126.79 L1240.42 126.15 L1238.68 125.52 L1236.94 124.89 L1235.19 124.27 L1233.44 123.66 L1231.69 123.05 L1229.94 122.45 L1228.18 121.85 L1226.43 121.26 L1224.67 120.67 L1222.91 120.09 L1221.15 119.51 L1219.38 118.95 L1217.62 118.38 L1215.85 117.82 L1214.08 117.27 L1212.31 116.73 L1210.54 116.19 L1208.76 115.65 L1206.99 115.12 L1205.21 114.60 L1203.43 114.08 L1201.65 113.57 L1199.87 113.07 L1198.08 112.57 L1196.29 112.07 L1194.51 111.58 L1192.72 111.10 L1190.93 110.63 L1189.13 110.15 L1187.34 109.69 L1185.54 109.23 L1183.75 108.78 L1181.95 108.33 L1180.15 107.89 L1178.35 107.45 L1176.54 107.02 L1174.74 106.60 L1172.93 106.18 L1171.13 105.77 L1169.32 105.36 L1167.51 104.96 L1165.70 104.57 L1163.89 104.18 L1162.07 103.80 L1160.26 103.42 L1158.44 103.05 L1156.62 102.69 L1154.81 102.33 L1152.99 101.97 L1151.17 101.63 L1149.34 101.28 L1147.52 100.95 L1145.70 100.62 L1143.87 100.30 L1142.05 99.98 L1140.22 99.67 L1138.39 99.36 L1136.56 99.06 L1134.73 98.77 L1132.90 98.48 L1131.07 98.20 L1129.24 97.92 L1127.41 97.65 L1125.57 97.39 L1123.74 97.13 L1121.90 96.88"/>
<path stroke="#ff0000" stroke-dasharray="14.25 14.25" d="M1625.50 899.00 L1625.50 897.15 L1625.49 895.30 L1625.49 893.44 L1625.49 891.59 L1625.49 889.74 L1625.49 887.89 L1625.49 886.03 L1625.49 884.18 L1625.49 882.33 L1625.49 880.48 L1625.49 878.62 L1625.49 876.77 L1625.49 874.92 L1625.49 873.07 L1625.49 871.21 L1625.49 869.36 L1625.49 867.51 L1625.50 865.66 L1625.50 863.81 L1625.50 861.95 L1625.50 860.10 L1625.50 858.25 L1625.50 856.40 L1625.51 854.54 L1625.51 852.69 L1625.51 850.84 L1625.51 848.99 L1625.51 847.13 L1625.51 845.28 L1625.51 843.43 L1625.51 841.58 L1625.51 839.72 L1625.51 837.87 L1625.51 836.02 L1625.51 834.17 L1625.51 832.32 L1625.51 830.46 L1625.51 828.61 L1625.50 826.76 L1625.50 824.91 L1625.50 823.05 L1625.49 821.20 L1625.49 819.35 L1625.48 817.50 L1625.48 815.64 L1625.48 813.79 L1625.47 811.94 L1625.47 810.09 L1625.46 808.24 L1625.46 806.38 L1625.46 804.53 L1625.46 802.68 L1625.46 800.83 L1625.46 798.97 L1625.46 797.12 L1625.47 795.27 L1625.47 793.42 L1625.48 791.56 L1625.49 789.71 L1625.50 787.86 L1625.51 786.01 L1625.52 784.15 L1625.54 782.30 L1625.55 780.45 L1625.57 778.60 L1625.59 776.74 L1625.60 774.89 L1625.62 773.04 L1625.63 771.18 L1625.64 769.33 L1625.65 767.48 L1625.65 765.63 L1625.65 763.77 L1625.65 761.92 L1625.64 760.07 L1625.63 758.22 L1625.61 756.37 L1625.59 754.51 L1625.56 752.66 L1625.52 750.81 L1625.47 748.96 L1625.42 747.11 L1625.36 745.26 L1625.30 743.41 L1625.22 741.56 L1625.15 739.71 L1625.07 737.85 L1624.98 736.00 L1624.89 734.15 L1624.80 732.30 L1624.71 730.45 L1624.61 728.60 L1624.52 726.75 L1624.42 724.90 L1624.32 723.05 L1624.23 721.20 L1624.13 719.35 L1624.04 717.50 L1623.94 715.65 L1623.85 713.80 L1623.75 711.95 L1623.66 710.10 L1623.56 708.25 L1623.46 706.40 L1623.37 704.55 L1623.26 702.70 L1623.16 700.85 L1623.05 699.00 L1622.94 697.16 L1622.82 695.31 L1622.70 693.46 L1622.57 691.61 L1622.44 689.76 L1622.31 687.92 L1622.16 686.07 L1622.02 684.22 L1621.87 682.38 L1621.72 680.53 L1621.57 678.68 L1621.41 676.84 L1621.25 674.99 L1621.09 673.15 L1620.93 671.30 L1620.77 669.46 L1620.60 667.61 L1620.44 665.77 L1620.28 663.92 L1620.12 662.07 L1619.96 660.23 L1619.80 658.38 L1619.64 656.54 L1619.48 654.69 L1619.32 652.85 L1619.16 651.00 L1619.00 649.16 L1618.84 647.31 L1618.67 645.47 L1618.51 643.62 L1618.34 641.77 L1618.17 639.93 L1617.99 638.08 L1617.81 636.24 L1617.63 634.40 L1617.44 632.55 L1617.25 630.71 L1617.05 628.87 L1616.84 627.02 L1616.63 625.18 L1616.42 623.34 L1616.19 621.51 L1615.96 619.67 L1615.72 617.83 L1615.47 616.00 L1615.22 614.16 L1614.95 612.33 L1614.68 610.50 L1614.39 608.67 L1614.10 606.84 L1613.79 605.01 L1613.48 603.19 L1613.16 601.37 L1612.83 599.54 L1612.50 597.72 L1612.15 595.90 L1611.80 594.08 L1611.45 592.27 L1611.08 590.45 L1610.72 588.63 L1610.34 586.82 L1609.96 585.00 L1609.58 583.19 L1609.19 581.38 L1608.80 579.57 L1608.41 577.75 L1608.02 575.94 L1607.62 574.13 L1607.22 572.32 L1606.81 570.51 L1606.41 568.70 L1606.01 566.89 L1605.60 565.09 L1605.19 563.28 L1604.78 561.47 L1604.37 559.66 L1603.95 557.86 L1603.53 556.05 L1603.11 554.25 L1602.68 552.45 L1602.25 550.64 L1601.82 548.84 L1601.38 547.04 L1600.93 545.25 L1600.48 543.45 L1600.02 541.66 L1599.56 539.86 L1599.08 538.07 L1598.61 536.28 L1598.12 534.50 L1597.63 532.71 L1597.13 530.93 L1596.62 529.15 L1596.10 527.37 L1595.58 525.60 L1595.04 523.82 L1594.51 522.05 L1593.96 520.28 L1593.41 518.51 L1592.86 516.74 L1592.29 514.98 L1591.73 513.21 L1591.15 511.45 L1590.58 509.69 L1590.00 507.93 L1589.41 506.17 L1588.82 504.42 L1588.23 502.66 L1587.63 500.91 L1587.03 499.15 L1586.43 497.40 L1585.82 495.65 L1585.22 493.90 L1584.61 492.15 L1584.00 490.40 L1583.38 488.65 L1582.77 486.90 L1582.15 485.16 L1581.52 483.41 L1580.90 481.67 L1580.27 479.92 L1579.64 478.18 L1579.00 476.44 L1578.36 474.70 L1577.72 472.97 L1577.07 471.23 L1576.42 469.50 L1575.76 467.77 L1575.10 466.04 L1574.44 464.31 L1573.77 462.58 L1573.09 460.86 L1572.41 459.13 L1571.73 457.41 L1571.03 455.69 L1570.34 453.98 L1569.63 452.26 L1568.93 450.55 L1568.21 448.84 L1567.49 447.14 L1566.77 445.43 L1566.04 443.73 L1565.30 442.03 L1564.56 440.33 L1563.81 438.63 L1563.06 436.94 L1562.30 435.25 L1561.54 433.56 L1560.77 431.88 L1560.00 430.19 L1559.22 428.51 L1558.43 426.83 L1557.64 425.16 L1556.85 423.48 L1556.05 421.81 L1555.24 420.14 L1554.43 418.48 L1553.61 416.82 L1552.79 415.16 L1551.96 413.50 L1551.13 411.84 L1550.29 410.19 L1549.45 408.54 L1548.60 406.89 L1547.75 405.25 L1546.89 403.61 L1546.02 401.97 L1545.16 400.33 L1544.28 398.70 L1543.40 397.07 L1542.52 395.44 L1541.63 393.82 L1540.73 392.19 L1539.83 390.57 L1538.93 388.96 L1538.02 387.34 L1537.10 385.73 L1536.18 384.12 L1535.26 382.52 L1534.33 380.92 L1533.39 379.32 L1532.45 377.72 L1531.51 376.13 L1530.56 374.54 L1529.60 372.95 L1528.64 371.36 L1527.68 369.78 L1526.71 368.20 L1525.74 366.63 L1524.76 365.05 L1523.78 363.48 L1522.79 361.92 L1521.79 360.35 L1520.80 358.79 L1519.79 357.23 L1518.79 355.68 L1517.78 354.13 L1516.76 352.58 L1515.74 351.03 L1514.71 349.49 L1513.68 347.95 L1512.65 346.41 L1511.61 344.88 L1510.56 343.35 L1509.52 341.82 L1508.46 340.30 L1507.41 338.77 L1506.34 337.26 L1505.28 335.74 L1504.20 334.23 L1503.13 332.72 L1502.05 331.22 L1500.96 329.72 L1499.87 328.22 L1498.78 326.72 L1497.68 325.23 L1496.57 323.75 L1495.46 322.26 L1494.35 320.78 L1493.23 319.30 L1492.11 317.83 L1490.98 316.36 L1489.85 314.89 L1488.71 313.43 L1487.57 311.97 L1486.43 310.51 L1485.28 309.06 L1484.12 307.61 L1482.96 306.17 L1481.80 304.72 L1480.63 303.29 L1479.46 301.85 L1478.28 300.42 L1477.10 298.99 L1475.91 297.57 L1474.72 296.15 L1473.53 294.74 L1472.33 293.32 L1471.13 291.92 L1469.92 290.51 L1468.70 289.11 L1467.49 287.72 L1466.26 286.32 L1465.04 284.93 L1463.81 283.55 L1462.57 282.17 L1461.33 280.79 L1460.09 279.42 L1458.84 278.05 L1457.59 276.68 L1456.33 275.32 L1455.07 273.97 L1453.80 272.61 L1452.53 271.26 L1451.26 269.92 L1449.98 268.58 L1448.70 267.24 L1447.41 265.91 L1446.12 264.58 L1444.82 263.26 L1443.52 261.94 L1442.22 260.62 L1440.91 259.31 L1439.60 258.00 L1438.28 256.70 L1436.96 255.40 L1435.63 254.10 L1434.30 252.81 L1432.97 251.53 L1431.63 250.25 L1430.29 248.97 L1428.94 247.70 L1427.59 246.43 L1426.24 245.16 L1424.88 243.90 L1423.52 242.65 L1422.15 241.40 L1420.78 240.15 L1419.41 238.91 L1418.03 237.67 L1416.65 236.44 L1415.26 235.21 L1413.87 233.98 L1412.48 232.76 L1411.08 231.55 L1409.68 230.34 L1408.27 229.13 L1406.86 227.93 L1405.45 226.73 L1404.03 225.54 L1402.61 224.35 L1401.19 223.16 L1399.76 221.98 L1398.33 220.81 L1396.89 219.64 L1395.45 218.47 L1394.01 217.31 L1392.56 216.15 L1391.11 214.99 L1389.66 213.84 L1388.20 212.70 L1386.75 211.56 L1385.28 210.42 L1383.82 209.29 L1382.35 208.16 L1380.87 207.04 L1379.40 205.92 L1377.92 204.80 L1376.43 203.69 L1374.95 202.58 L1373.46 201.48 L1371.97 200.39 L1370.47 199.29 L1368.97 198.21 L1367.47 197.12 L1365.96 196.04 L1364.45 194.97 L1362.94 193.90 L1361.42 192.84 L1359.90 191.78 L1358.38 190.72 L1356.85 189.67 L1355.32 188.63 L1353.79 187.59 L1352.25 186.55 L1350.71 185.52 L1349.17 184.49 L1347.62 183.47 L1346.07 182.46 L1344.52 181.45 L1342.97 180.44 L1341.41 179.44 L1339.84 178.45 L1338.28 177.46 L1336.71 176.47 L1335.14 175.49 L1333.56 174.52 L1331.98 173.55 L1330.40 172.58 L1328.82 171.62 L1327.23 170.67 L1325.64 169.72 L1324.04 168.78 L1322.44 167.84 L1320.84 166.90 L1319.24 165.97 L1317.63 165.05 L1316.02 164.13 L1314.41 163.22 L1312.80 162.31 L1311.18 161.41 L1309.56 160.52 L1307.93 159.62 L1306.31 158.74 L1304.68 157.86 L1303.04 156.98 L1301.41 156.11 L1299.77 155.24 L1298.13 154.38 L1296.49 153.53 L1294.84 152.68 L1293.19 151.83 L1291.54 150.99 L1289.89 150.16 L1288.23 149.33 L1286.57 148.50 L1284.91 147.68 L1283.25 146.87 L1281.58 146.06 L1279.91 145.26 L1278.24 144.46 L1276.56 143.66 L1274.89 142.87 L1273.21 142.09 L1271.53 141.31 L1269.84 140.54 L1268.16 139.77 L1266.47 139.01 L1264.78 138.25 L1263.08 137.50 L1261.39 136.76 L1259.69 136.02 L1257.99 135.28 L1256.28 134.56 L1254.58 133.83 L1252.87 133.12 L1251.16 132.41 L1249.45 131.70 L1247.73 131.00 L1246.01 130.31 L1244.29 129.62 L1242.57 128.94 L1240.84 128.26 L1239.12 127.59 L1237.39 126.93 L1235.65 126.27 L1233.92 125.62 L1232.18 124.98 L1230.44 124.34 L1228.70 123.70 L1226.96 123.08 L1225.21 122.46 L1223.46 121.84 L1221.71 121.24 L1219.96 120.63 L1218.21 120.04 L1216.45 119.45 L1214.69 118.87 L1212.93 118.29 L1211.17 117.72 L1209.40 117.16 L1207.63 116.60 L1205.87 116.05 L1204.09 115.51 L1202.32 114.97 L1200.55 114.44 L1198.77 113.91 L1196.99 113.40 L1195.21 112.88 L1193.43 112.38 L1191.64 111.88 L1189.86 111.38 L1188.07 110.90 L1186.28 110.41 L1184.49 109.94 L1182.70 109.47 L1180.90 109.01 L1179.11 108.55 L1177.31 108.10 L1175.51 107.65 L1173.71 107.22 L1171.91 106.78 L1170.11 106.36 L1168.30 105.93 L1166.50 105.52 L1164.69 105.11 L1162.88 104.71 L1161.07 104.31 L1159.26 103.92 L1157.45 103.53 L1155.64 103.16 L1153.82 102.78 L1152.01 102.42 L1150.19 102.06 L1148.37 101.70 L1146.55 101.35 L1144.73 101.01 L1142.91 100.67 L1141.08 100.34 L1139.26 100.02 L1137.43 99.70 L1135.61 99.39 L1133.78 99.08 L1131.95 98.79 L1130.12 98.49 L1128.29 98.21 L1126.46 97.92 L1124.63 97.65 L1122.80 97.38 L1120.96 97.12 L1119.13 96.86 L1117.29 96.62 L1115.45 96.37 L1113.62 96.13 L1111.78 95.90 L1109.94 95.68 L1108.10 95.46 L1106.26 95.25 L1104.42 95.04 L1102.57 94.84 L1100.73 94.65 L1098.89 94.47 L1097.04 94.29 L1095.20 94.11 L1093.35 93.94 L1091.51 93.78 L1089.66 93.63 L1087.82 93.48 L1085.97 93.34 L1084.12 93.20 L1082.27 93.07 L1080.42 92.94 L1078.58 92.83 L1076.73 92.71 L1074.88 92.61 L1073.03 92.51 L1071.18 92.41 L1069.33 92.33 L1067.48 92.24 L1065.62 92.17 L1063.77 92.10 L1061.92 92.03 L1060.07 91.97 L1058.22 91.92 L1056.37 91.87 L1054.51 91.83 L1052.66 91.79 L1050.81 91.76 L1048.96 91.73 L1047.10 91.71 L1045.25 91.70 L1043.40 91.69 L1041.55 91.69 L1039.69 91.69 L1037.84 91.69 L1035.99 91.71 L1034.13 91.72 L1032.28 91.75 L1030.43 91.78 L1028.58 91.81 L1026.73 91.85 L1024.87 91.89 L1023.02 91.94 L1021.17 92.00 L1019.32 92.06 L1017.47 92.13 L1015.61 92.20 L1013.76 92.27 L1011.91 92.36 L1010.06 92.44 L1008.21 92.54 L1006.36 92.63 L1004.51 92.74 L1002.66 92.84 L1000.81 92.96 L998.96 93.08 L997.12 93.20 L995.27 93.33 L993.42 93.47 L991.57 93.61 L989.73 93.75 L987.88 93.91 L986.03 94.06 L984.19 94.23 L982.34 94.39 L980.50 94.57 L978.65 94.75 L976.81 94.93 L974.97 95.12 L973.13 95.32 L971.28 95.52 L969.44 95.73 L967.60 95.94 L965.76 96.16 L963.92 96.39 L962.09 96.62 L960.25 96.85 L958.41 97.10 L956.58 97.34 L954.74 97.60 L952.91 97.86 L951.07 98.12 L949.24 98.39 L947.41 98.67 L945.58 98.95 L943.75 99.24 L941.92 99.53 L940.09 99.83 L938.26 100.14 L936.44 100.45 L934.61 100.77 L932.79 101.09 L930.96 101.42 L929.14 101.75 L927.32 102.10 L925.50 102.44 L923.68 102.79 L921.86 103.15 L920.05 103.52 L918.23 103.89 L916.42 104.26 L914.60 104.65 L912.79 105.03 L910.98 105.43 L909.17 105.83 L907.36 106.24 L905.56 106.65 L903.75 107.07 L901.95 107.49 L900.15 107.92 L898.35 108.36 L896.55 108.80 L894.75 109.25 L892.95 109.70 L891.16 110.16 L889.37 110.63 L887.58 111.10 L885.79 111.58 L884.00 112.06 L882.21 112.56 L880.43 113.05 L878.64 113.56 L876.86 114.06 L875.08 114.58 L873.30 115.10 L871.53 115.63 L869.75 116.16 L867.98 116.70 L866.21 117.25 L864.44 117.80 L862.68 118.36 L860.91 118.92 L859.15 119.49 L857.39 120.07 L855.63 120.65 L853.87 121.24 L852.12 121.84 L850.36 122.44 L848.61 123.05 L846.87 123.66 L845.12 124.28 L843.38 124.91 L841.63 125.54 L839.90 126.18 L838.16 126.83 L836.42 127.48 L834.69 128.14 L832.96 128.80 L831.24 129.47 L829.51 130.15 L827.79 130.83 L826.07 131.52 L824.35 132.22 L822.64 132.92 L820.93 133.63 L819.22 134.34 L817.51 135.07 L815.81 135.79 L814.11 136.53 L812.41 137.27 L810.71 138.01 L809.02 138.77 L807.33 139.53 L805.64 140.29 L803.96 141.06 L802.27 141.84 L800.59 142.62 L798.92 143.41 L797.24 144.21 L795.57 145.01 L793.91 145.81 L792.24 146.62 L790.58 147.44 L788.92 148.27 L787.26 149.09 L785.61 149.93 L783.95 150.77 L782.31 151.61 L780.66 152.47 L779.02 153.32 L777.38 154.18 L775.74 155.05 L774.11 155.92 L772.47 156.80 L770.85 157.69 L769.22 158.57 L767.60 159.47 L765.98 160.37 L764.36 161.27 L762.75 162.18 L761.14 163.10 L759.53 164.02 L757.92 164.95 L756.32 165.88 L754.73 166.82 L753.13 167.76 L751.54 168.71 L749.95 169.66 L748.36 170.62 L746.78 171.58 L745.20 172.55 L743.63 173.52 L742.05 174.50 L740.48 175.49 L738.92 176.47 L737.35 177.47 L735.79 178.47 L734.24 179.47 L732.68 180.48 L731.13 181.50 L729.59 182.52 L728.04 183.55 L726.50 184.58 L724.97 185.61 L723.43 186.65 L721.91 187.70 L720.38 188.75 L718.86 189.80 L717.34 190.86 L715.82 191.93 L714.31 193.00 L712.80 194.08 L711.30 195.16 L709.80 196.24 L708.30 197.33 L706.80 198.43 L705.31 199.53 L703.83 200.63 L702.34 201.74 L700.86 202.86 L699.39 203.98 L697.91 205.10 L696.45 206.23 L694.98 207.37 L693.52 208.51 L692.06 209.65 L690.61 210.80 L689.16 211.95 L687.71 213.11 L686.27 214.28 L684.83 215.44 L683.40 216.62 L681.97 217.79 L680.54 218.98 L679.12 220.16 L677.70 221.35 L676.28 222.55 L674.87 223.75 L673.47 224.95 L672.06 226.16 L670.66 227.38 L669.27 228.60 L667.88 229.82 L666.49 231.05 L665.11 232.28 L663.73 233.52 L662.35 234.76 L660.98 236.01 L659.61 237.26 L658.25 238.51 L656.89 239.77 L655.54 241.04 L654.19 242.30 L652.84 243.58 L651.50 244.85 L650.16 246.14 L648.83 247.42 L647.50 248.71 L646.17 250.01 L644.85 251.31 L643.53 252.61 L642.22 253.92 L640.91 255.23 L639.61 256.54 L638.31 257.86 L637.01 259.19 L635.72 260.52 L634.43 261.85 L633.15 263.19 L631.87 264.53 L630.60 265.87 L629.33 267.22 L628.07 268.58 L626.81 269.94 L625.55 271.30 L624.30 272.66 L623.05 274.03 L621.81 275.41 L620.57 276.79 L619.34 278.17 L618.11 279.55 L616.88 280.94 L615.66 282.34 L614.45 283.74 L613.24 285.14 L612.03 286.54 L610.83 287.95 L609.63 289.37 L608.44 290.79 L607.25 292.21 L606.06 293.63 L604.89 295.06 L603.71 296.49 L602.54 297.93 L601.38 299.37 L600.22 300.82 L599.06 302.26 L597.91 303.72 L596.76 305.17 L595.62 306.63 L594.49 308.09 L593.35 309.56 L592.23 311.03 L591.10 312.51 L589.99 313.98 L588.87 315.46 L587.76 316.95 L586.66 318.44 L585.56 319.93 L584.47 321.43 L583.38 322.92 L582.30 324.43 L581.22 325.93 L580.14 327.44 L579.07 328.96 L578.01 330.47 L576.95 331.99 L575.90 333.51 L574.85 335.04 L573.80 336.57 L572.76 338.10 L571.73 339.64 L570.70 341.18 L569.67 342.73 L568.65 344.27 L567.64 345.82 L566.63 347.38 L565.62 348.93 L564.62 350.49 L563.63 352.05 L562.64 353.62 L561.65 355.19 L560.67 356.76 L559.70 358.34 L558.73 359.92 L557.76 361.50 L556.80 363.08 L555.85 364.67 L554.90 366.26 L553.96 367.86 L553.02 369.45 L552.08 371.05 L551.15 372.66 L550.23 374.26 L549.31 375.87 L548.40 377.48 L547.49 379.10 L546.59 380.72 L545.69 382.34 L544.80 383.96 L543.91 385.59 L543.03 387.22 L542.15 388.85 L541.28 390.48 L540.41 392.12 L539.55 393.76 L538.70 395.40 L537.85 397.05 L537.00 398.70 L536.16 400.35 L535.33 402.01 L534.50 403.66 L533.67 405.32 L532.86 406.98 L532.04 408.65 L531.24 410.32 L530.43 411.99 L529.64 413.66 L528.85 415.34 L528.06 417.01 L527.28 418.69 L526.51 420.38 L525.74 422.06 L524.97 423.75 L524.22 425.44 L523.46 427.13 L522.72 428.83 L521.98 430.53 L521.24 432.23 L520.51 433.93 L519.78 435.64 L519.07 437.34 L518.35 439.05 L517.64 440.76 L516.94 442.48 L516.25 444.20 L515.55 445.92 L514.87 447.64 L514.19 449.36 L513.51 451.09 L512.85 452.81 L512.18 454.54 L511.53 456.28 L510.87 458.01 L510.23 459.75 L509.59 461.49 L508.95 463.23 L508.33 464.97 L507.70 466.71 L507.08 468.46 L506.47 470.21 L505.87 471.96 L505.27 473.71 L504.67 475.47 L504.08 477.22 L503.50 478.98 L502.92 480.74 L502.35 482.51 L501.79 484.27 L501.23 486.04 L500.67 487.80 L500.12 489.57 L499.58 491.34 L499.04 493.12 L498.51 494.89 L497.98 496.67 L497.47 498.45 L496.95 500.23 L496.44 502.01 L495.94 503.79 L495.44 505.58 L494.95 507.36 L494.47 509.15 L493.99 510.94 L493.52 512.73 L493.05 514.53 L492.59 516.32 L492.13 518.12 L491.68 519.91 L491.24 521.71 L490.80 523.51 L490.37 525.31 L489.94 527.12 L489.52 528.92 L489.10 530.73 L488.69 532.53 L488.29 534.34 L487.89 536.15 L487.50 537.96 L487.12 539.77 L486.74 541.59 L486.36 543.40 L486.00 545.22 L485.63 547.04 L485.28 548.85 L484.93 550.67 L484.58 552.49 L484.25 554.32 L483.91 556.14 L483.59 557.96 L483.27 559.79 L482.95 561.61 L482.64 563.44 L482.34 565.27 L482.04 567.10 L481.75 568.93 L481.47 570.76 L481.19 572.59 L480.92 574.42 L480.65 576.25 L480.39 578.09 L480.13 579.92 L479.88 581.76 L479.64 583.60 L479.40 585.43 L479.17 587.27 L478.94 589.11 L478.72 590.95 L478.51 592.79 L478.30 594.63 L478.10 596.47 L477.90 598.32 L477.71 600.16 L477.53 602.00 L477.35 603.85 L477.18 605.69 L477.01 607.54 L476.85 609.38 L476.70 611.23 L476.55 613.07 L476.41 614.92 L476.27 616.77 L476.14 618.62 L476.02 620.47 L475.90 622.32 L475.79 624.16 L475.68 626.01 L475.58 627.86 L475.49 629.71 L475.40 631.56 L475.31 633.42 L475.24 635.27 L475.17 637.12 L475.10 638.97 L475.04 640.82 L474.99 642.67 L474.94 644.53 L474.90 646.38 L474.87 648.23 L474.84 650.08 L474.82 651.94 L474.80 653.79 L474.79 655.64 L474.78 657.49 L474.78 659.35 L474.79 661.20 L474.80 663.05 L474.82 664.90 L474.85 666.76 L474.88 668.61 L474.92 670.46 L474.96 672.31 L475.01 674.17 L475.06 676.02 L475.12 677.87 L475.19 679.72 L475.26 681.57 L475.34 683.42 L475.43 685.27 L475.52 687.12 L475.61 688.98 L475.72 690.82 L475.82 692.67 L475.94 694.52 L476.06 696.37 L476.19 698.22 L476.32 700.07 L476.46 701.92 L476.60 703.76 L476.75 705.61 L476.91 707.46 L477.07 709.30 L477.24 711.15 L477.42 712.99 L477.60 714.84 L477.78 716.68 L477.97 718.52 L478.17 720.36 L478.38 722.20 L478.59 724.05 L478.81 725.89 L479.03 727.72 L479.26 729.56 L479.49 731.40 L479.73 733.24 L479.98 735.07 L480.23 736.91 L480.49 738.74 L480.75 740.58 L481.02 742.41 L481.30 744.24 L481.58 746.07 L481.87 747.90 L482.16 749.73 L482.46 751.56 L482.77 753.39 L483.08 755.22 L483.40 757.04 L483.72 758.86 L484.05 760.69 L484.39 762.51 L484.73 764.33 L485.08 766.15 L485.43 767.97 L485.79 769.79 L486.16 771.60 L486.53 773.42 L486.90 775.23 L487.29 777.05 L487.68 778.86 L488.07 780.67 L488.47 782.48 L488.88 784.28 L489.29 786.09 L489.71 787.89 L490.14 789.70 L490.57 791.50 L491.00 793.30 L491.44 795.10 L491.89 796.90 L492.35 798.69 L492.81 800.49 L493.27 802.28 L493.74 804.07 L494.22 805.86 L494.70 807.65 L495.19 809.44 L495.69 811.22 L496.19 813.01 L496.69 814.79 L497.21 816.57 L497.72 818.35 L498.25 820.13 L498.78 821.90 L499.31 823.68 L499.86 825.45 L500.40 827.22 L500.96 828.99 L501.52 830.75 L502.08 832.52 L502.65 834.28 L503.23 836.04 L503.81 837.80 L504.40 839.56 L504.99 841.31 L505.59 843.06 L506.19 844.82 L506.81 846.56 L507.42 848.31 L508.04 850.06 L508.67 851.80 L509.31 853.54 L509.94 855.28 L510.59 857.02 L511.24 858.75 L511.90 860.48 L512.56 862.21 L513.23 863.94 L513.90 865.67 L514.58 867.39 L515.26 869.12 L515.95 870.83 L516.65 872.55 L517.35 874.27 L518.06 875.98 L518.77 877.69 L519.49 879.40 L520.21 881.10 L520.94 882.81 L521.68 884.51 L522.42 886.20 L523.16 887.90 L523.92 889.59 L524.67 891.28 L525.44 892.97 L526.21 894.66 L526.98 896.34 L527.76 898.02 L528.55 899.70 L529.34 901.37 L530.14 903.04 L530.94 904.71 L531.75 906.38 L532.57 908.05 L533.39 909.71 L534.21 911.37 L535.04 913.02 L535.88 914.67 L536.72 916.32 L537.57 917.97 L538.42 919.62 L539.28 921.26 L540.14 922.90 L541.01 924.53 L541.89 926.17 L542.76 927.80 L543.65 929.43 L544.54 931.05 L545.43 932.67 L546.34 934.29 L547.24 935.91 L548.15 937.52 L549.07 939.13 L549.99 940.74 L550.91 942.35 L551.85 943.95 L552.78 945.55 L553.72 947.14 L554.67 948.73 L555.62 950.32 L556.58 951.91 L557.54 953.49 L558.51 955.07 L559.48 956.65 L560.45 958.23 L561.43 959.80 L562.42 961.37 L563.41 962.93 L564.41 964.49 L565.41 966.05 L566.41 967.61 L567.42 969.16 L568.44 970.71 L569.46 972.26 L570.48 973.80 L571.51 975.34 L572.55 976.88 L573.59 978.41 L574.63 979.95 L575.68 981.47 L576.73 983.00 L577.79 984.52 L578.86 986.03 L579.92 987.55 L581.00 989.06 L582.08 990.56 L583.16 992.07 L584.25 993.57 L585.34 995.06 L586.44 996.56 L587.54 998.05 L588.64 999.53 L589.76 1001.01 L590.87 1002.49 L591.99 1003.97 L593.12 1005.44 L594.25 1006.91 L595.39 1008.37 L596.53 1009.83 L597.68 1011.28 L598.83 1012.74 L599.98 1014.19 L601.14 1015.63 L602.31 1017.07 L603.47 1018.51 L604.65 1019.94 L605.83 1021.37 L607.01 1022.80 L608.20 1024.22 L609.39 1025.64 L610.59 1027.05 L611.79 1028.46 L613.00 1029.87 L614.21 1031.27 L615.42 1032.67 L616.64 1034.06 L617.87 1035.45 L619.10 1036.84 L620.33 1038.22 L621.57 1039.60 L622.81 1040.97 L624.06 1042.34 L625.31 1043.71 L626.56 1045.07 L627.82 1046.43 L629.09 1047.78 L630.36 1049.13 L631.63 1050.48 L632.91 1051.82 L634.19 1053.16 L635.48 1054.49 L636.77 1055.82 L638.06 1057.15 L639.36 1058.47 L640.66 1059.79 L641.97 1061.10 L643.28 1062.41 L644.60 1063.71 L645.92 1065.01 L647.25 1066.30 L648.57 1067.60 L649.91 1068.88 L651.25 1070.16 L652.59 1071.44 L653.93 1072.72 L655.28 1073.98 L656.64 1075.25 L657.99 1076.51 L659.36 1077.77 L660.72 1079.02 L662.09 1080.26 L663.47 1081.51 L664.84 1082.75 L666.23 1083.98 L667.61 1085.21 L669.00 1086.43 L670.40 1087.65 L671.80 1088.87 L673.20 1090.08 L674.60 1091.29 L676.01 1092.49 L677.43 1093.69 L678.85 1094.88 L680.27 1096.07 L681.69 1097.25 L683.12 1098.43 L684.56 1099.60 L685.99 1100.77 L687.43 1101.94 L688.88 1103.10 L690.33 1104.25 L691.78 1105.40 L693.23 1106.55 L694.69 1107.69 L696.16 1108.83 L697.62 1109.96 L699.09 1111.09 L700.57 1112.21 L702.04 1113.33 L703.53 1114.44 L705.01 1115.55 L706.50 1116.65 L707.99 1117.75 L709.49 1118.84 L710.99 1119.93 L712.49 1121.01 L714.00 1122.09 L715.51 1123.17 L717.02 1124.23 L718.54 1125.30 L720.06 1126.36 L721.58 1127.41 L723.11 1128.46 L724.64 1129.51 L726.17 1130.54 L727.71 1131.58 L729.25 1132.61 L730.79 1133.63 L732.34 1134.65 L733.89 1135.67 L735.44 1136.68 L737.00 1137.68 L738.56 1138.68 L740.12 1139.67 L741.69 1140.66 L743.26 1141.64 L744.83 1142.62 L746.41 1143.60 L747.99 1144.57 L749.57 1145.53 L751.16 1146.49 L752.75 1147.44 L754.34 1148.39 L755.93 1149.33 L757.53 1150.27 L759.13 1151.20 L760.74 1152.13 L762.34 1153.05 L763.95 1153.97 L765.57 1154.88 L767.18 1155.78 L768.80 1156.68 L770.42 1157.58 L772.05 1158.47 L773.68 1159.36 L775.31 1160.24 L776.94 1161.11 L778.58 1161.98 L780.22 1162.84 L781.86 1163.70 L783.50 1164.56 L785.15 1165.40 L786.80 1166.25 L788.45 1167.08 L790.11 1167.92 L791.77 1168.74 L793.43 1169.56 L795.09 1170.38 L796.76 1171.19 L798.43 1171.99 L800.10 1172.79 L801.77 1173.59 L803.45 1174.38 L805.13 1175.16 L806.81 1175.94 L808.49 1176.71 L810.18 1177.48 L811.87 1178.24 L813.56 1178.99 L815.25 1179.74 L816.95 1180.49 L818.65 1181.23 L820.35 1181.96 L822.05 1182.69 L823.76 1183.41 L825.47 1184.13 L827.18 1184.84 L828.89 1185.55 L830.61 1186.25 L832.32 1186.94 L834.04 1187.63 L835.77 1188.31 L837.49 1188.99 L839.22 1189.66 L840.94 1190.33 L842.68 1190.99 L844.41 1191.65 L846.14 1192.30 L847.88 1192.94 L849.62 1193.58 L851.36 1194.21 L853.10 1194.84 L854.85 1195.46 L856.60 1196.08 L858.35 1196.69 L860.10 1197.30 L861.85 1197.89 L863.61 1198.49 L865.36 1199.08 L867.12 1199.66 L868.88 1200.23 L870.64 1200.80 L872.41 1201.37 L874.18 1201.93 L875.94 1202.48 L877.71 1203.03 L879.49 1203.57 L881.26 1204.11 L883.03 1204.64 L884.81 1205.16 L886.59 1205.68 L888.37 1206.19 L890.15 1206.70 L891.94 1207.20 L893.72 1207.70 L895.51 1208.19 L897.30 1208.67 L899.09 1209.15 L900.88 1209.62 L902.67 1210.09 L904.46 1210.55 L906.26 1211.01 L908.06 1211.45 L909.86 1211.90 L911.66 1212.34 L913.46 1212.77 L915.26 1213.19 L917.07 1213.61 L918.87 1214.03 L920.68 1214.43 L922.49 1214.84 L924.30 1215.23 L926.11 1215.62 L927.92 1216.01 L929.74 1216.39 L931.55 1216.76 L933.37 1217.13 L935.18 1217.49 L937.00 1217.84 L938.82 1218.19 L940.64 1218.54 L942.46 1218.87 L944.29 1219.21 L946.11 1219.53 L947.94 1219.85 L949.76 1220.16 L951.59 1220.47 L953.42 1220.77 L955.24 1221.07 L957.07 1221.36 L958.91 1221.64 L960.74 1221.92 L962.57 1222.19 L964.40 1222.46 L966.24 1222.72 L968.07 1222.98 L969.91 1223.22 L971.75 1223.47 L973.58 1223.70 L975.42 1223.93 L977.26 1224.16 L979.10 1224.38 L980.94 1224.59 L982.78 1224.80 L984.62 1225.00 L986.47 1225.19 L988.31 1225.38 L990.15 1225.56 L992.00 1225.74 L993.84 1225.91 L995.69 1226.07 L997.53 1226.23 L999.38 1226.38 L1001.23 1226.53 L1003.07 1226.67 L1004.92 1226.81 L1006.77 1226.94 L1008.62 1227.06 L1010.47 1227.17 L1012.32 1227.29 L1014.17 1227.39 L1016.02 1227.49 L1017.87 1227.58 L1019.72 1227.67 L1021.57 1227.75 L1023.42 1227.82 L1025.27 1227.89 L1027.12 1227.95 L1028.98 1228.01 L1030.83 1228.06 L1032.68 1228.11 L1034.53 1228.14 L1036.38 1228.18 L1038.24 1228.20 L1040.09 1228.22 L1041.94 1228.24 L1043.80 1228.25 L1045.65 1228.25 L1047.50 1228.25 L1049.35 1228.24 L1051.21 1228.22 L1053.06 1228.20 L1054.91 1228.17 L1056.76 1228.14 L1058.62 1228.10 L1060.47 1228.05 L1062.32 1228.00 L1064.17 1227.94 L1066.02 1227.88 L1067.88 1227.81 L1069.73 1227.73 L1071.58 1227.65 L1073.43 1227.56 L1075.28 1227.47 L1077.13 1227.37 L1078.98 1227.26 L1080.83 1227.15 L1082.68 1227.03 L1084.52 1226.91 L1086.37 1226.78 L1088.22 1226.64 L1090.07 1226.50 L1091.91 1226.35 L1093.76 1226.20 L1095.61 1226.04 L1097.45 1225.87 L1099.30 1225.70 L1101.14 1225.52 L1102.98 1225.34 L1104.83 1225.15 L1106.67 1224.95 L1108.51 1224.75 L1110.35 1224.54 L1112.19 1224.33 L1114.03 1224.11 L1115.87 1223.88 L1117.71 1223.65 L1119.55 1223.41 L1121.38 1223.17 L1123.22 1222.92 L1125.05 1222.66 L1126.89 1222.40 L1128.72 1222.13 L1130.55 1221.86 L1132.39 1221.58 L1134.22 1221.29 L1136.05 1221.00 L1137.87 1220.70 L1139.70 1220.40 L1141.53 1220.09 L1143.35 1219.78 L1145.18 1219.45 L1147.00 1219.13 L1148.83 1218.79 L1150.65 1218.46 L1152.47 1218.11 L1154.29 1217.76 L1156.10 1217.40 L1157.92 1217.04 L1159.74 1216.67 L1161.55 1216.30 L1163.37 1215.92 L1165.18 1215.53 L1166.99 1215.14 L1168.80 1214.74 L1170.61 1214.34 L1172.41 1213.93 L1174.22 1213.52 L1176.02 1213.10 L1177.83 1212.67 L1179.63 1212.24 L1181.43 1211.80 L1183.23 1211.35 L1185.02 1210.90 L1186.82 1210.45 L1188.61 1209.99 L1190.41 1209.52 L1192.20 1209.05 L1193.99 1208.57 L1195.78 1208.08 L1197.56 1207.59 L1199.35 1207.09 L1201.13 1206.59 L1202.91 1206.08 L1204.69 1205.57 L1206.47 1205.05 L1208.25 1204.53 L1210.02 1203.99 L1211.80 1203.46 L1213.57 1202.92 L1215.34 1202.37 L1217.10 1201.81 L1218.87 1201.25 L1220.64 1200.69 L1222.40 1200.12 L1224.16 1199.54 L1225.92 1198.96 L1227.67 1198.37 L1229.43 1197.78 L1231.18 1197.18 L1232.93 1196.57 L1234.68 1195.96 L1236.43 1195.35 L1238.18 1194.73 L1239.92 1194.10 L1241.66 1193.47 L1243.40 1192.83 L1245.14 1192.18 L1246.87 1191.53 L1248.61 1190.88 L1250.34 1190.22 L1252.06 1189.55 L1253.79 1188.88 L1255.52 1188.20 L1257.24 1187.52 L1258.96 1186.83 L1260.68 1186.13 L1262.39 1185.43 L1264.10 1184.73 L1265.81 1184.02 L1267.52 1183.30 L1269.23 1182.58 L1270.93 1181.85 L1272.63 1181.12 L1274.33 1180.38 L1276.03 1179.63 L1277.72 1178.88 L1279.41 1178.13 L1281.10 1177.37 L1282.79 1176.60 L1284.48 1175.83 L1286.16 1175.05 L1287.84 1174.27 L1289.51 1173.48 L1291.19 1172.69 L1292.86 1171.89 L1294.53 1171.09 L1296.20 1170.28 L1297.86 1169.47 L1299.52 1168.65 L1301.18 1167.82 L1302.84 1167.00 L1304.50 1166.16 L1306.15 1165.32 L1307.80 1164.48 L1309.44 1163.63 L1311.09 1162.78 L1312.73 1161.92 L1314.37 1161.05 L1316.00 1160.18 L1317.64 1159.31 L1319.27 1158.43 L1320.90 1157.55 L1322.52 1156.66 L1324.14 1155.76 L1325.76 1154.86 L1327.38 1153.96 L1328.99 1153.05 L1330.60 1152.13 L1332.21 1151.21 L1333.82 1150.29 L1335.42 1149.36 L1337.02 1148.42 L1338.61 1147.48 L1340.21 1146.53 L1341.80 1145.58 L1343.38 1144.62 L1344.97 1143.66 L1346.55 1142.69 L1348.12 1141.72 L1349.70 1140.75 L1351.27 1139.76 L1352.84 1138.77 L1354.40 1137.78 L1355.96 1136.78 L1357.52 1135.78 L1359.07 1134.77 L1360.62 1133.76 L1362.17 1132.74 L1363.71 1131.71 L1365.26 1130.68 L1366.79 1129.65 L1368.33 1128.61 L1369.85 1127.56 L1371.38 1126.51 L1372.90 1125.46 L1374.42 1124.40 L1375.94 1123.33 L1377.45 1122.26 L1378.96 1121.18 L1380.46 1120.10 L1381.96 1119.02 L1383.46 1117.92 L1384.95 1116.83 L1386.44 1115.73 L1387.93 1114.62 L1389.41 1113.51 L1390.89 1112.39 L1392.37 1111.27 L1393.84 1110.15 L1395.30 1109.01 L1396.77 1107.88 L1398.23 1106.74 L1399.69 1105.59 L1401.14 1104.44 L1402.59 1103.29 L1404.03 1102.13 L1405.47 1100.97 L1406.91 1099.80 L1408.35 1098.62 L1409.78 1097.45 L1411.20 1096.26 L1412.62 1095.08 L1414.04 1093.88 L1415.46 1092.69 L1416.87 1091.49 L1418.28 1090.28 L1419.68 1089.07 L1421.08 1087.86 L1422.47 1086.64 L1423.86 1085.41 L1425.25 1084.19 L1426.63 1082.95 L1428.01 1081.72 L1429.39 1080.47 L1430.76 1079.23 L1432.13 1077.98 L1433.49 1076.72 L1434.85 1075.46 L1436.20 1074.20 L1437.55 1072.93 L1438.90 1071.66 L1440.24 1070.38 L1441.58 1069.10 L1442.91 1067.81 L1444.24 1066.52 L1445.56 1065.22 L1446.88 1063.92 L1448.20 1062.62 L1449.51 1061.31 L1450.82 1060.00 L1452.12 1058.68 L1453.42 1057.36 L1454.72 1056.04 L1456.01 1054.71 L1457.29 1053.37 L1458.58 1052.04 L1459.85 1050.69 L1461.13 1049.35 L1462.39 1048.00 L1463.66 1046.64 L1464.92 1045.28 L1466.17 1043.92 L1467.42 1042.55 L1468.67 1041.18 L1469.91 1039.81 L1471.15 1038.43 L1472.38 1037.05 L1473.61 1035.66 L1474.83 1034.27 L1476.05 1032.87 L1477.27 1031.47 L1478.47 1030.07 L1479.68 1028.66 L1480.88 1027.25 L1482.08 1025.83 L1483.27 1024.42 L1484.45 1022.99 L1485.64 1021.57 L1486.81 1020.14 L1487.98 1018.70 L1489.15 1017.26 L1490.32 1015.82 L1491.47 1014.37 L1492.63 1012.92 L1493.78 1011.47 L1494.92 1010.01 L1496.06 1008.55 L1497.19 1007.09 L1498.32 1005.62 L1499.45 1004.14 L1500.57 1002.67 L1501.68 1001.19 L1502.79 999.70 L1503.89 998.22 L1504.99 996.73 L1506.09 995.23 L1507.18 993.73 L1508.26 992.23 L1509.34 990.72 L1510.41 989.21 L1511.48 987.70 L1512.55 986.18 L1513.61 984.66 L1514.66 983.14 L1515.71 981.61 L1516.75 980.08 L1517.79 978.54 L1518.82 977.01 L1519.85 975.46 L1520.87 973.92 L1521.89 972.37 L1522.90 970.82 L1523.90 969.26 L1524.91 967.70 L1525.90 966.14 L1526.89 964.58 L1527.88 963.01 L1528.86 961.43 L1529.83 959.86 L1530.80 958.28 L1531.77 956.70 L1532.72 955.11 L1533.68 953.52 L1534.63 951.93 L1535.57 950.34 L1536.51 948.74 L1537.44 947.14 L1538.36 945.53 L1539.29 943.92 L1540.20 942.31 L1541.11 940.70 L1542.02 939.08 L1542.92 937.46 L1543.81 935.84 L1544.70 934.22 L1545.58 932.59 L1546.46 930.96 L1547.34 929.32 L1548.20 927.69 L1549.06 926.05 L1549.92 924.40 L1550.77 922.76 L1551.62 921.11 L1552.46 919.46 L1553.29 917.80 L1554.12 916.15 L1554.95 914.49 L1555.76 912.82 L1556.58 911.16 L1557.38 909.49 L1558.19 907.82 L1558.98 906.15 L1559.77 904.47 L1560.56 902.80 L1561.34 901.11 L1562.11 899.43 L1562.88 897.75 L1563.65 896.06 L1564.40 894.37 L1565.16 892.67 L1565.90 890.98 L1566.64 889.28 L1567.38 887.58 L1568.11 885.88 L1568.84 884.17 L1569.56 882.47 L1570.27 880.76 L1570.98 879.04 L1571.68 877.33 L1572.38 875.61 L1573.07 873.89 L1573.76 872.17 L1574.44 870.45 L1575.11 868.73 L1575.78 867.00 L1576.45 865.27 L1577.10 863.54 L1577.76 861.80 L1578.40 860.07 L1579.04 858.33 L1579.68 856.59 L1580.31 854.85 L1580.94 853.10 L1581.55 851.36 L1582.17 849.61 L1582.78 847.86 L1583.38 846.10 L1583.97 844.35 L1584.56 842.59 L1585.15 840.84 L1585.73 839.08 L1586.30 837.31 L1586.87 835.55 L1587.43 833.79 L1587.99 832.02 L1588.54 830.25 L1589.08 828.48 L1589.62 826.71 L1590.16 824.93 L1590.68 823.16 L1591.20 821.38 L1591.72 819.60 L1592.23 817.82 L1592.73 816.03 L1593.23 814.25 L1593.72 812.46 L1594.21 810.68 L1594.69 808.89 L1595.16 807.09 L1595.63 805.30 L1596.09 803.51 L1596.55 801.71 L1597.00 799.92 L1597.45 798.12 L1597.88 796.32 L1598.32 794.52 L1598.74 792.71 L1599.16 790.91 L1599.58 789.10 L1599.99 787.30 L1600.39 785.49 L1600.79 783.68 L1601.18 781.87 L1601.56 780.05 L1601.94 778.24 L1602.32 776.43 L1602.68 774.61 L1603.04 772.79 L1603.40 770.97 L1603.75 769.15 L1604.09 767.33 L1604.43 765.51 L1604.76 763.69 L1605.09 761.87 L1605.41 760.04 L1605.72 758.21 L1606.03 756.39 L1606.33 754.56 L1606.63 752.73 L1606.92 750.90 L1607.21 749.07 L1607.49 747.24 L1607.76 745.41 L1608.03 743.57 L1608.29 741.74 L1608.54 739.90 L1608.79 738.07 L1609.03 736.23 L1609.27 734.39 L1609.50 732.56 L1609.73 730.72 L1609.95 728.88 L1610.16 727.04 L1610.37 725.20 L1610.58 723.35 L1610.77 721.51 L1610.96 719.67 L1611.15 717.83 L1611.33 715.98 L1611.50 714.14 L1611.67 712.29 L1611.83 710.45 L1611.98 708.60 L1612.13 706.75 L1612.28 704.91 L1612.42 703.06 L1612.55 701.21 L1612.67 699.36 L1612.79 697.51 L1612.91 695.67 L1613.02 693.82 L1613.12 691.97 L1613.22 690.12 L1613.31 688.27 L1613.40 686.41 L1613.47 684.56 L1613.55 682.71 L1613.62 680.86 L1613.68 679.01 L1613.74 677.16 L1613.79 675.30 L1613.83 673.45 L1613.87 671.60 L1613.90 669.75 L1613.93 667.90 L1613.95 666.04 L1613.96 664.19 L1613.97 662.34 L1613.98 660.48 L1613.97 658.63 L1613.96 656.78 L1613.95 654.93 L1613.93 653.07 L1613.90 651.22 L1613.87 649.37 L1613.83 647.52 L1613.78 645.66 L1613.73 643.81 L1613.67 641.96 L1613.61 640.11 L1613.54 638.26 L1613.46 636.41 L1613.38 634.56 L1613.30 632.71 L1613.20 630.85 L1613.10 629.00 L1613.00 627.15 L1612.88 625.31 L1612.77 623.46 L1612.64 621.61 L1612.51 619.76 L1612.38 617.91 L1612.23 616.06 L1612.09 614.22 L1611.93 612.37 L1611.77 610.53 L1611.61 608.68 L1611.43 606.84 L1611.25 604.99 L1611.07 603.15 L1610.88 601.31 L1610.68 599.46 L1610.48 597.62 L1610.27 595.78 L1610.06 593.94 L1609.84 592.10 L1609.61 590.26 L1609.38 588.42 L1609.15 586.59 L1608.90 584.75 L1608.65 582.91 L1608.40 581.08 L1608.14 579.24 L1607.87 577.41 L1607.60 575.58 L1607.32 573.75 L1607.04 571.92 L1606.75 570.09 L1606.46 568.26 L1606.16 566.43 L1605.85 564.60 L1605.54 562.77 L1605.23 560.95 L1604.90 559.12 L1604.58 557.30 L1604.24 555.48 L1603.90 553.66 L1603.56 551.84 L1603.21 550.02 L1602.85 548.20 L1602.49 546.38 L1602.13 544.57 L1601.75 542.75 L1601.38 540.94 L1600.99 539.12 L1600.60 537.31 L1600.21 535.50 L1599.81 533.69 L1599.41 531.89 L1598.99 530.08 L1598.58 528.27 L1598.16 526.47 L1597.73 524.67 L1597.30 522.87 L1596.86 521.07 L1596.41 519.27 L1595.96 517.47 L1595.50 515.67 L1595.04 513.88 L1594.57 512.09 L1594.10 510.30 L1593.62 508.51 L1593.14 506.72 L1592.64 504.93 L1592.15 503.15 L1591.64 501.36 L1591.13 499.58 L1590.62 497.80 L1590.10 496.03 L1589.57 494.25 L1589.03 492.48 L1588.49 490.70 L1587.95 488.93 L1587.39 487.17 L1586.83 485.40 L1586.27 483.64 L1585.70 481.87 L1585.12 480.11 L1584.54 478.35 L1583.95 476.60 L1583.35 474.84 L1582.75 473.09 L1582.14 471.34 L1581.53 469.59 L1580.91 467.85 L1580.29 466.10 L1579.65 464.36 L1579.02 462.62 L1578.37 460.88 L1577.73 459.15 L1577.07 457.41 L1576.41 455.68 L1575.74 453.95 L1575.07 452.23 L1574.40 450.50 L1573.71 448.78 L1573.02 447.06 L1572.33 445.34 L1571.63 443.63 L1570.92 441.91 L1570.21 440.20 L1569.49 438.49 L1568.77 436.79 L1568.04 435.09 L1567.31 433.38 L1566.57 431.69 L1565.82 429.99 L1565.07 428.30 L1564.31 426.60 L1563.55 424.92 L1562.79 423.23 L1562.01 421.55 L1561.23 419.86 L1560.45 418.19 L1559.66 416.51 L1558.87 414.84 L1558.06 413.17 L1557.26 411.50 L1556.45 409.83 L1555.63 408.17 L1554.81 406.51 L1553.98 404.85 L1553.15 403.20 L1552.31 401.54 L1551.47 399.89 L1550.62 398.25 L1549.76 396.60 L1548.90 394.96 L1548.04 393.32 L1547.17 391.69 L1546.29 390.06 L1545.41 388.43 L1544.52 386.80 L1543.63 385.18 L1542.73 383.55 L1541.83 381.94 L1540.92 380.32 L1540.01 378.71 L1539.09 377.10 L1538.17 375.49 L1537.24 373.89 L1536.30 372.29 L1535.36 370.70 L1534.42 369.10 L1533.47 367.51 L1532.51 365.92 L1531.55 364.34 L1530.59 362.76 L1529.62 361.18 L1528.64 359.61 L1527.66 358.03 L1526.67 356.46 L1525.68 354.90 L1524.69 353.34 L1523.68 351.78 L1522.68 350.22 L1521.67 348.67 L1520.65 347.12 L1519.63 345.58 L1518.60 344.04 L1517.57 342.50 L1516.53 340.96 L1515.49 339.43 L1514.44 337.90 L1513.39 336.38 L1512.33 334.86 L1511.27 333.34 L1510.20 331.82 L1509.13 330.31 L1508.05 328.80 L1506.97 327.30 L1505.88 325.80 L1504.79 324.30 L1503.70 322.81 L1502.59 321.32 L1501.49 319.83 L1500.38 318.35 L1499.26 316.87 L1498.14 315.40 L1497.01 313.93 L1495.88 312.46 L1494.75 310.99 L1493.61 309.53 L1492.46 308.08 L1491.31 306.63 L1490.16 305.18 L1489.00 303.73 L1487.83 302.29 L1486.66 300.85 L1485.49 299.42 L1484.31 297.99 L1483.13 296.56 L1481.94 295.14 L1480.75 293.72 L1479.55 292.31 L1478.35 290.90 L1477.15 289.49 L1475.93 288.09 L1474.72 286.69 L1473.50 285.30 L1472.28 283.91 L1471.05 282.52 L1469.81 281.14 L1468.57 279.76 L1467.33 278.38 L1466.09 277.01 L1464.83 275.65 L1463.58 274.29 L1462.32 272.93 L1461.05 271.57 L1459.78 270.22 L1458.51 268.88 L1457.23 267.54 L1455.95 266.20 L1454.66 264.87 L1453.37 263.54 L1452.08 262.21 L1450.78 260.89 L1449.47 259.58 L1448.17 258.26 L1446.85 256.96 L1445.54 255.65 L1444.21 254.35 L1442.89 253.06 L1441.56 251.77 L1440.23 250.48 L1438.89 249.20 L1437.55 247.92 L1436.20 246.65 L1434.85 245.38 L1433.50 244.12 L1432.14 242.86 L1430.77 241.60 L1429.41 240.35 L1428.04 239.11 L1426.66 237.86 L1425.28 236.63 L1423.90 235.39 L1422.51 234.17 L1421.12 232.94 L1419.73 231.72 L1418.33 230.51 L1416.92 229.30 L1415.52 228.09 L1414.11 226.89 L1412.69 225.70 L1411.27 224.50 L1409.85 223.32 L1408.42 222.13 L1406.99 220.96 L1405.56 219.78 L1404.12 218.61 L1402.68 217.45 L1401.24 216.29 L1399.79 215.14 L1398.33 213.99 L1396.88 212.84 L1395.42 211.70 L1393.95 210.57 L1392.49 209.44 L1391.01 208.31 L1389.54 207.19 L1388.06 206.07 L1386.58 204.96 L1385.09 203.86 L1383.60 202.75 L1382.11 201.66 L1380.61 200.56 L1379.11 199.48 L1377.61 198.40 L1376.10 197.32 L1374.59 196.25 L1373.08 195.18 L1371.56 194.12 L1370.04 193.06 L1368.51 192.00 L1366.98 190.96 L1365.45 189.91 L1363.92 188.88 L1362.38 187.84 L1360.84 186.82 L1359.29 185.79 L1357.75 184.77 L1356.19 183.76 L1354.64 182.75 L1353.08 181.75 L1351.52 180.75 L1349.96 179.76 L1348.39 178.77 L1346.82 177.79 L1345.24 176.81 L1343.67 175.84 L1342.09 174.88 L1340.50 173.91 L1338.92 172.96 L1337.33 172.01 L1335.73 171.06 L1334.14 170.12 L1332.54 169.18 L1330.94 168.25 L1329.33 167.33 L1327.72 166.41 L1326.11 165.49 L1324.50 164.58 L1322.88 163.68 L1321.26 162.78 L1319.64 161.88 L1318.01 160.99 L1316.39 160.11 L1314.75 159.23 L1313.12 158.36 L1311.48 157.49 L1309.84 156.63 L1308.20 155.77 L1306.56 154.92 L1304.91 154.07 L1303.26 153.23 L1301.60 152.40 L1299.95 151.57 L1298.29 150.74 L1296.63 149.92 L1294.96 149.11 L1293.29 148.30 L1291.63 147.50 L1289.95 146.70 L1288.28 145.91 L1286.60 145.12 L1284.92 144.34 L1283.24 143.56 L1281.55 142.79 L1279.87 142.03 L1278.18 141.27 L1276.48 140.51 L1274.79 139.76 L1273.09 139.02 L1271.39 138.28 L1269.69 137.55 L1267.99 136.82 L1266.28 136.10 L1264.57 135.39 L1262.86 134.68 L1261.15 133.97 L1259.43 133.28 L1257.71 132.58 L1255.99 131.90 L1254.27 131.21 L1252.54 130.54 L1250.82 129.87 L1249.09 129.20 L1247.36 128.54 L1245.62 127.89 L1243.89 127.24 L1242.15 126.60 L1240.41 125.96 L1238.67 125.33 L1236.92 124.70 L1235.18 124.08 L1233.43 123.47 L1231.68 122.86 L1229.93 122.26 L1228.17 121.66 L1226.42 121.07 L1224.66 120.48 L1222.90 119.90 L1221.14 119.33 L1219.38 118.76 L1217.61 118.20 L1215.84 117.64 L1214.08 117.09 L1212.30 116.54 L1210.53 116.00 L1208.76 115.47 L1206.98 114.94 L1205.21 114.42 L1203.43 113.90 L1201.65 113.39 L1199.86 112.88 L1198.08 112.38 L1196.29 111.89 L1194.51 111.40 L1192.72 110.92 L1190.93 110.44 L1189.13 109.97 L1187.34 109.51 L1185.55 109.05 L1183.75 108.60 L1181.95 108.15 L1180.15 107.71 L1178.35 107.27 L1176.55 106.84 L1174.75 106.42 L1172.94 106.00 L1171.13 105.59 L1169.33 105.18 L1167.52 104.78 L1165.71 104.39 L1163.90 104.00 L1162.08 103.62 L1160.27 103.24 L1158.45 102.87 L1156.64 102.50 L1154.82 102.15 L1153.00 101.79 L1151.18 101.45 L1149.36 101.10 L1147.54 100.77 L1145.71 100.44 L1143.89 100.11 L1142.06 99.80 L1140.24 99.49 L1138.41 99.18 L1136.58 98.88 L1134.75 98.59 L1132.92 98.30 L1131.09 98.02 L1129.26 97.74 L1127.43 97.47 L1125.60 97.20 L1123.76 96.95 L1121.93 96.69"/>
</g>
<g fill="#262626" font-size="75.00">
<text x="552.50" y="1322.80" text-anchor="middle">-300</text>
<text x="909.50" y="1322.80" text-anchor="middle">-200</text>
<text x="1266.55" y="1322.80" text-anchor="middle">-100</text>
<text x="1623.60" y="1322.80" text-anchor="middle">0</text>
<text x="230.60" y="207.10" text-anchor="end">200</text>
<text x="230.60" y="386.20" text-anchor="end">150</text>
<text x="230.60" y="565.35" text-anchor="end">100</text>
<text x="230.60" y="744.50" text-anchor="end">50</text>
<text x="230.60" y="923.60" text-anchor="end">0</text>
<text x="230.60" y="1102.70" text-anchor="end">-50</text>
</g>
<g fill="#000" font-size="83.33">
<text x="1048.40" y="1423.90" text-anchor="middle">X (m)</text>
<text transform="translate(84.90 662.50) rotate(-90)" text-anchor="middle">Y (m)</text>
</g>
<rect x="1381.90" y="130.80" width="422.90" height="285.40" fill="#fff" stroke="#000" stroke-width="2.4"/>
<g fill="none" stroke-width="14.20" stroke-linecap="butt">
<path stroke="#00ff00" d="M1395.8 182.60 H1538.4"/>
<path stroke="#0000ff" stroke-dasharray="56.98 56.97" d="M1395.8 273.30 H1538.4"/>
<path stroke="#ff0000" stroke-dasharray="14.25 14.25" d="M1395.8 364.10 H1538.0"/>
</g>
<g fill="#000" font-size="76.00">
<text x="1547.60" y="207.90">NC</text>
<text x="1547.60" y="297.90">PID</text>
<text x="1547.60" y="388.70">L2ARC</text>
</g>
</svg></body></html>
